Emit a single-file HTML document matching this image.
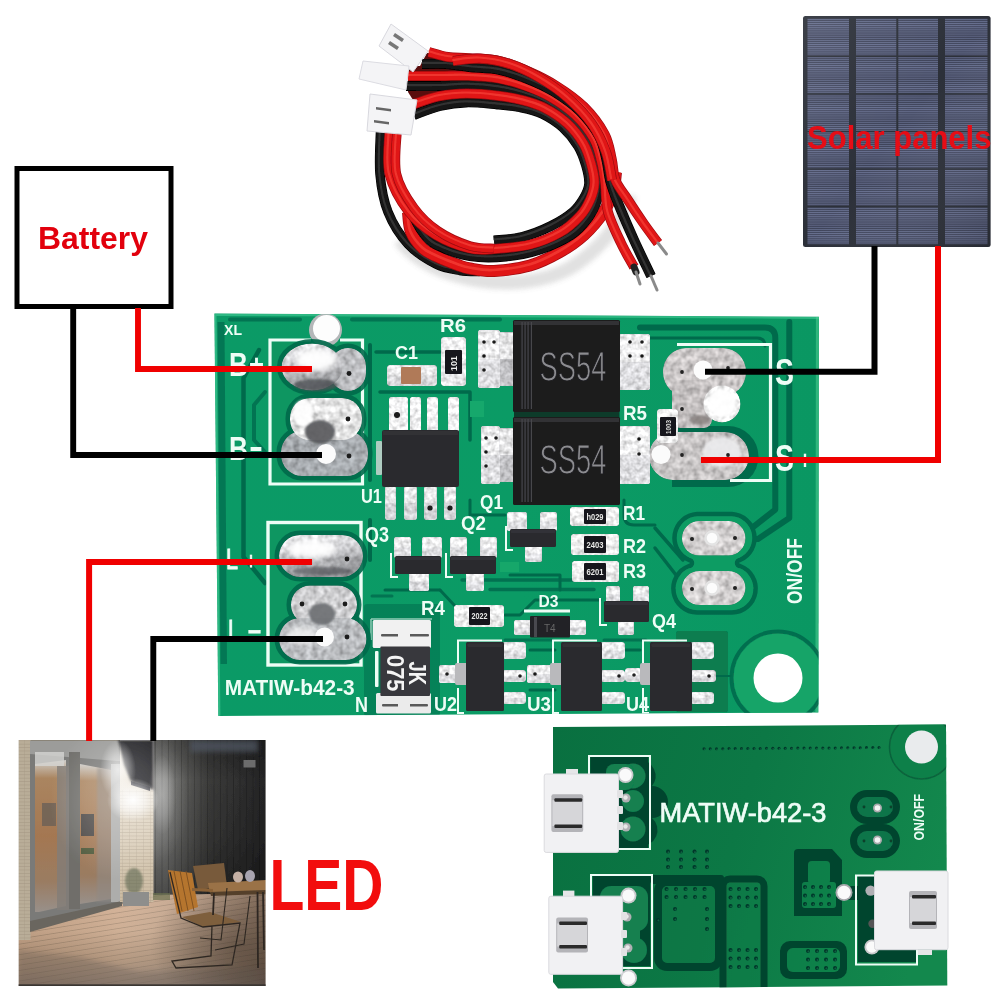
<!DOCTYPE html>
<html><head><meta charset="utf-8"><title>Solar controller wiring</title>
<style>html,body{margin:0;padding:0;background:#fff;overflow:hidden}svg{display:block;font-family:"Liberation Sans",sans-serif;}</style></head><body>
<svg width="1000" height="1000" viewBox="0 0 1000 1000">
<defs>
<filter id="b1" x="-5%" y="-5%" width="110%" height="110%"><feGaussianBlur stdDeviation="0.55"/></filter>
<filter id="b2" x="-30%" y="-30%" width="160%" height="160%"><feGaussianBlur stdDeviation="1.3"/></filter>
<filter id="b3" x="-40%" y="-40%" width="180%" height="180%"><feGaussianBlur stdDeviation="2.6"/></filter>
<filter id="b5" x="-50%" y="-50%" width="200%" height="200%"><feGaussianBlur stdDeviation="5"/></filter>

<filter id="b0" x="-5%" y="-5%" width="110%" height="110%"><feGaussianBlur stdDeviation="0.35"/></filter>
<pattern id="cellp" width="4" height="2.1" patternUnits="userSpaceOnUse"><rect width="4" height="2.1" fill="#3e4359"/><rect y="0" width="4" height="0.95" fill="#687090"/></pattern>
<linearGradient id="solg" x1="0" y1="0" x2="1" y2="1"><stop offset="0" stop-color="#fff" stop-opacity="0.08"/><stop offset="0.5" stop-color="#fff" stop-opacity="0"/><stop offset="1" stop-color="#000" stop-opacity="0.12"/></linearGradient>
<linearGradient id="pg1" x1="0" y1="0" x2="1" y2="0"><stop offset="0" stop-color="#0b9a66"/><stop offset="0.5" stop-color="#0b9b65"/><stop offset="1" stop-color="#0a9762"/></linearGradient>
<linearGradient id="solg1" x1="0" y1="0" x2="0.3" y2="1"><stop offset="0" stop-color="#ececee"/><stop offset="0.45" stop-color="#c9c9cc"/><stop offset="1" stop-color="#8f9093"/></linearGradient>
<radialGradient id="blob" cx="0.4" cy="0.35" r="0.7"><stop offset="0" stop-color="#ffffff"/><stop offset="0.6" stop-color="#e6e6e8"/><stop offset="1" stop-color="#a8a8ac"/></radialGradient>
<clipPath id="pc1"><polygon points="214.4,313.5 819,316.8 818.4,712.5 218.3,716"/></clipPath>

<filter id="metal" x="-2%" y="-2%" width="104%" height="104%">
<feTurbulence type="fractalNoise" baseFrequency="0.16" numOctaves="2" seed="9" result="n"/>
<feColorMatrix in="n" type="matrix" values="1 0 0 0 0  1 0 0 0 0  1 0 0 0 0  0 0 0 0 1" result="g"/>
<feComposite in="SourceGraphic" in2="g" operator="arithmetic" k1="1.3" k2="0.42" k3="0" k4="0" result="m"/>
<feComposite in="m" in2="SourceGraphic" operator="in" result="mm"/>
<feGaussianBlur in="mm" stdDeviation="0.5"/>
</filter>
<filter id="metal2" x="-1%" y="-1%" width="102%" height="102%">
<feTurbulence type="fractalNoise" baseFrequency="0.22" numOctaves="2" seed="5" result="n"/>
<feColorMatrix in="n" type="matrix" values="1 0 0 0 0  1 0 0 0 0  1 0 0 0 0  0 0 0 0 1" result="g"/>
<feComposite in="SourceGraphic" in2="g" operator="arithmetic" k1="1.1" k2="0.5" k3="0" k4="0" result="m"/>
<feComposite in="m" in2="SourceGraphic" operator="in" result="mm"/>
<feGaussianBlur in="mm" stdDeviation="0.55"/>
</filter>
<linearGradient id="pg2" gradientUnits="userSpaceOnUse" x1="553" y1="727" x2="947" y2="845"><stop offset="0" stop-color="#097040"/><stop offset="0.5" stop-color="#0c7845"/><stop offset="1" stop-color="#13884d"/></linearGradient>
<clipPath id="pc2"><polygon points="553,727 946,724.5 947.3,985.5 558,988.5 553,982"/></clipPath>
<clipPath id="phc"><rect x="18.7" y="740" width="246.8" height="246"/></clipPath>
<linearGradient id="fence" x1="0" y1="0" x2="1" y2="0"><stop offset="0" stop-color="#7c7c7a"/><stop offset="0.12" stop-color="#787876"/><stop offset="0.3" stop-color="#585856"/><stop offset="0.5" stop-color="#3b3b3a"/><stop offset="1" stop-color="#242425"/></linearGradient>
<linearGradient id="fenceV" x1="0" y1="0" x2="0" y2="1"><stop offset="0" stop-color="#000" stop-opacity="0.3"/><stop offset="0.25" stop-color="#000" stop-opacity="0"/><stop offset="0.6" stop-color="#000" stop-opacity="0.12"/><stop offset="1" stop-color="#000" stop-opacity="0.4"/></linearGradient>
<linearGradient id="deck" x1="0" y1="0" x2="0" y2="1"><stop offset="0" stop-color="#d2ae92"/><stop offset="0.4" stop-color="#caa88c"/><stop offset="0.7" stop-color="#ae9076"/><stop offset="1" stop-color="#8a7668"/></linearGradient>
<linearGradient id="deckH" x1="0" y1="0" x2="1" y2="0"><stop offset="0" stop-color="#000" stop-opacity="0.05"/><stop offset="0.4" stop-color="#fff" stop-opacity="0.08"/><stop offset="1" stop-color="#000" stop-opacity="0.36"/></linearGradient>
<linearGradient id="brickL" x1="0" y1="0" x2="0" y2="1"><stop offset="0" stop-color="#f4f0e8"/><stop offset="0.3" stop-color="#e6dccb"/><stop offset="1" stop-color="#cbbba2"/></linearGradient>
<linearGradient id="pane" x1="0" y1="0" x2="0" y2="1"><stop offset="0" stop-color="#cfcdc8"/><stop offset="0.12" stop-color="#aa8560"/><stop offset="0.5" stop-color="#a47751"/><stop offset="0.8" stop-color="#9a7c62"/><stop offset="1" stop-color="#98908a"/></linearGradient>
<radialGradient id="shade" cx="0.5" cy="0.5" r="0.5"><stop offset="0" stop-color="#3a2e26" stop-opacity="1"/><stop offset="0.5" stop-color="#3a2e26" stop-opacity="0.6"/><stop offset="1" stop-color="#3a2e26" stop-opacity="0"/></radialGradient>
<radialGradient id="glow" cx="0.5" cy="0.5" r="0.5"><stop offset="0" stop-color="#fff" stop-opacity="1"/><stop offset="0.5" stop-color="#fff" stop-opacity="0.6"/><stop offset="1" stop-color="#fff" stop-opacity="0"/></radialGradient>
<pattern id="brk" width="7" height="3.4" patternUnits="userSpaceOnUse"><rect width="7" height="3.4" fill="none"/><rect y="2.9" width="7" height="0.5" fill="#8a7a68" opacity="0.45"/><rect x="3" y="0" width="0.5" height="3" fill="#8a7a68" opacity="0.3"/></pattern>
<pattern id="plk" width="40" height="5.2" patternUnits="userSpaceOnUse" patternTransform="rotate(-9)"><rect y="4.4" width="40" height="0.8" fill="#6a5844" opacity="0.35"/></pattern>
<pattern id="fpl" width="6.5" height="20" patternUnits="userSpaceOnUse"><rect x="5.8" width="0.7" height="20" fill="#000" opacity="0.25"/></pattern>
</defs>
<rect width="1000" height="1000" fill="#fff"/>
<g filter="url(#b1)"><g filter="url(#b3)" opacity="0.22">
<path d="M400 240 C 430 282 520 296 570 268 C 600 250 624 220 630 195" fill="none" stroke="#777" stroke-width="14"/>
</g>
<polygon points="427,53 450,55 472,54 470,106 440,106 416,117 413,100 408,92 409,66 420,66" fill="#5a0b0d" />
<path d="M380.5 131 C380.4 138.2 378.8 160.5 380 174 C381.2 187.5 383.3 200.3 388 212 C392.7 223.7 400 235.3 408 244 C416 252.7 427.3 259.6 436 264 C444.7 268.4 452.7 269.2 460 270.5 C467.3 271.8 476.7 271.3 480 271.5" fill="none" stroke="#000" stroke-width="9.5" stroke-linecap="butt"/><path d="M380.5 131 C380.4 138.2 378.8 160.5 380 174 C381.2 187.5 383.3 200.3 388 212 C392.7 223.7 400 235.3 408 244 C416 252.7 427.3 259.6 436 264 C444.7 268.4 452.7 269.2 460 270.5 C467.3 271.8 476.7 271.3 480 271.5" fill="none" stroke="#161616" stroke-width="8.1" stroke-linecap="butt"/><path d="M380.5 131 C380.4 138.2 378.8 160.5 380 174 C381.2 187.5 383.3 200.3 388 212 C392.7 223.7 400 235.3 408 244 C416 252.7 427.3 259.6 436 264 C444.7 268.4 452.7 269.2 460 270.5 C467.3 271.8 476.7 271.3 480 271.5" fill="none" stroke="#505050" stroke-width="2.09" stroke-opacity="0.5" transform="translate(-0.8,-1)"/>
<path d="M408 212 C408.5 215.3 408.5 225.9 411 232 C413.5 238.1 418.8 244.5 423 248.5 C427.2 252.5 430.2 253.2 436 256 C441.8 258.8 452.3 262.9 458 265 C463.7 267.1 464 267.5 470 268.5 C476 269.5 484 271.5 494 271 C504 270.5 519 268.7 530 265.5 C541 262.3 551 257.1 560 252 C569 246.9 576.8 241.5 584 235 C591.2 228.5 598.2 220.2 603 213 C607.8 205.8 610.8 198.8 613 192 C615.2 185.2 615.5 175.3 616 172" fill="none" stroke="#9c0a0e" stroke-width="12" stroke-linecap="butt"/><path d="M408 212 C408.5 215.3 408.5 225.9 411 232 C413.5 238.1 418.8 244.5 423 248.5 C427.2 252.5 430.2 253.2 436 256 C441.8 258.8 452.3 262.9 458 265 C463.7 267.1 464 267.5 470 268.5 C476 269.5 484 271.5 494 271 C504 270.5 519 268.7 530 265.5 C541 262.3 551 257.1 560 252 C569 246.9 576.8 241.5 584 235 C591.2 228.5 598.2 220.2 603 213 C607.8 205.8 610.8 198.8 613 192 C615.2 185.2 615.5 175.3 616 172" fill="none" stroke="#e01519" stroke-width="10.6" stroke-linecap="butt"/><path d="M408 212 C408.5 215.3 408.5 225.9 411 232 C413.5 238.1 418.8 244.5 423 248.5 C427.2 252.5 430.2 253.2 436 256 C441.8 258.8 452.3 262.9 458 265 C463.7 267.1 464 267.5 470 268.5 C476 269.5 484 271.5 494 271 C504 270.5 519 268.7 530 265.5 C541 262.3 551 257.1 560 252 C569 246.9 576.8 241.5 584 235 C591.2 228.5 598.2 220.2 603 213 C607.8 205.8 610.8 198.8 613 192 C615.2 185.2 615.5 175.3 616 172" fill="none" stroke="#ff5846" stroke-width="2.64" stroke-opacity="0.5" transform="translate(-0.8,-1)"/>
<path d="M414 115 C418.3 113.5 431.3 108.1 440 106 C448.7 103.9 456.7 102.6 466.3 102.4 C475.8 102.1 488 103.6 497.2 104.4 C506.4 105.3 514.1 106 521.6 107.6 C529.1 109.1 535.3 110.4 542.2 113.7 C549 117 556.8 121.9 562.8 127.3 C568.7 132.7 574.3 139.7 578.2 146 C582.1 152.4 584.3 159.2 586.1 165.4 C587.9 171.7 589.5 178.3 589.2 183.7 C588.8 189.1 586.7 193.3 584 198 C581.3 202.7 578.5 207.3 573 212 C567.5 216.7 559.5 221.8 551 226 C542.5 230.2 531.5 234.6 522 237 C512.5 239.4 498.7 239.9 494 240.5" fill="none" stroke="#000" stroke-width="10" stroke-linecap="butt"/><path d="M414 115 C418.3 113.5 431.3 108.1 440 106 C448.7 103.9 456.7 102.6 466.3 102.4 C475.8 102.1 488 103.6 497.2 104.4 C506.4 105.3 514.1 106 521.6 107.6 C529.1 109.1 535.3 110.4 542.2 113.7 C549 117 556.8 121.9 562.8 127.3 C568.7 132.7 574.3 139.7 578.2 146 C582.1 152.4 584.3 159.2 586.1 165.4 C587.9 171.7 589.5 178.3 589.2 183.7 C588.8 189.1 586.7 193.3 584 198 C581.3 202.7 578.5 207.3 573 212 C567.5 216.7 559.5 221.8 551 226 C542.5 230.2 531.5 234.6 522 237 C512.5 239.4 498.7 239.9 494 240.5" fill="none" stroke="#161616" stroke-width="8.6" stroke-linecap="butt"/><path d="M414 115 C418.3 113.5 431.3 108.1 440 106 C448.7 103.9 456.7 102.6 466.3 102.4 C475.8 102.1 488 103.6 497.2 104.4 C506.4 105.3 514.1 106 521.6 107.6 C529.1 109.1 535.3 110.4 542.2 113.7 C549 117 556.8 121.9 562.8 127.3 C568.7 132.7 574.3 139.7 578.2 146 C582.1 152.4 584.3 159.2 586.1 165.4 C587.9 171.7 589.5 178.3 589.2 183.7 C588.8 189.1 586.7 193.3 584 198 C581.3 202.7 578.5 207.3 573 212 C567.5 216.7 559.5 221.8 551 226 C542.5 230.2 531.5 234.6 522 237 C512.5 239.4 498.7 239.9 494 240.5" fill="none" stroke="#505050" stroke-width="2.2" stroke-opacity="0.5" transform="translate(-0.8,-1)"/>
<path d="M406 86 C411.7 86 429.7 86.2 440 86 C450.3 85.8 457.9 84.5 467.6 84.7 C477.3 84.9 488.7 85.7 498.2 87.1 C507.7 88.5 516.4 90.7 524.7 93.3 C533 95.9 540.2 98.4 548 102.7 C555.7 107 564.5 112.7 571.2 119.2 C578 125.6 584.5 134 588.7 141.3 C592.9 148.5 594.5 155.9 596.3 162.7 C598.1 169.6 599.6 176.1 599.7 182.4 C599.8 188.6 599 194.1 597 200 C595 205.9 592.3 212.2 588 218 C583.7 223.8 579 229.8 571 235 C563 240.2 550.8 245.9 540 249.5 C529.2 253.1 517.7 255.4 506 256.5 C494.3 257.6 481.7 258 470 256 C458.3 254 444 248.7 436 244.5 C428 240.3 425.8 235.9 422 231 C418.2 226.1 414.5 217.7 413 215" fill="none" stroke="#000" stroke-width="10" stroke-linecap="butt"/><path d="M406 86 C411.7 86 429.7 86.2 440 86 C450.3 85.8 457.9 84.5 467.6 84.7 C477.3 84.9 488.7 85.7 498.2 87.1 C507.7 88.5 516.4 90.7 524.7 93.3 C533 95.9 540.2 98.4 548 102.7 C555.7 107 564.5 112.7 571.2 119.2 C578 125.6 584.5 134 588.7 141.3 C592.9 148.5 594.5 155.9 596.3 162.7 C598.1 169.6 599.6 176.1 599.7 182.4 C599.8 188.6 599 194.1 597 200 C595 205.9 592.3 212.2 588 218 C583.7 223.8 579 229.8 571 235 C563 240.2 550.8 245.9 540 249.5 C529.2 253.1 517.7 255.4 506 256.5 C494.3 257.6 481.7 258 470 256 C458.3 254 444 248.7 436 244.5 C428 240.3 425.8 235.9 422 231 C418.2 226.1 414.5 217.7 413 215" fill="none" stroke="#161616" stroke-width="8.6" stroke-linecap="butt"/><path d="M406 86 C411.7 86 429.7 86.2 440 86 C450.3 85.8 457.9 84.5 467.6 84.7 C477.3 84.9 488.7 85.7 498.2 87.1 C507.7 88.5 516.4 90.7 524.7 93.3 C533 95.9 540.2 98.4 548 102.7 C555.7 107 564.5 112.7 571.2 119.2 C578 125.6 584.5 134 588.7 141.3 C592.9 148.5 594.5 155.9 596.3 162.7 C598.1 169.6 599.6 176.1 599.7 182.4 C599.8 188.6 599 194.1 597 200 C595 205.9 592.3 212.2 588 218 C583.7 223.8 579 229.8 571 235 C563 240.2 550.8 245.9 540 249.5 C529.2 253.1 517.7 255.4 506 256.5 C494.3 257.6 481.7 258 470 256 C458.3 254 444 248.7 436 244.5 C428 240.3 425.8 235.9 422 231 C418.2 226.1 414.5 217.7 413 215" fill="none" stroke="#505050" stroke-width="2.2" stroke-opacity="0.5" transform="translate(-0.8,-1)"/>
<path d="M414 104 C418.3 102.7 431.2 97.7 440 96 C448.8 94.3 457.3 93.6 467 93.5 C476.6 93.5 488.4 94.6 497.7 95.8 C507.1 96.9 515.3 98.3 523.2 100.4 C531.1 102.5 537.8 104.4 545.1 108.2 C552.4 112 560.6 117.3 567 123.2 C573.4 129.1 579.4 136.8 583.4 143.6 C587.5 150.4 589.4 157.5 591.2 164.1 C593 170.6 594.6 177.1 594.4 183 C594.2 189 592.4 194.5 590 200 C587.6 205.5 585 210.6 580 216 C575 221.4 568.3 227.8 560 232.5 C551.7 237.2 541 241.8 530 244.5 C519 247.2 504 248.3 494 249 C484 249.7 479.7 250.8 470 248.5 C460.3 246.2 446.2 241.1 436 235 C425.8 228.9 416.8 222.2 409 212 C401.2 201.8 392.8 187.5 389.5 174 C386.2 160.5 389.5 138.2 389.5 131" fill="none" stroke="#9c0a0e" stroke-width="10" stroke-linecap="butt"/><path d="M414 104 C418.3 102.7 431.2 97.7 440 96 C448.8 94.3 457.3 93.6 467 93.5 C476.6 93.5 488.4 94.6 497.7 95.8 C507.1 96.9 515.3 98.3 523.2 100.4 C531.1 102.5 537.8 104.4 545.1 108.2 C552.4 112 560.6 117.3 567 123.2 C573.4 129.1 579.4 136.8 583.4 143.6 C587.5 150.4 589.4 157.5 591.2 164.1 C593 170.6 594.6 177.1 594.4 183 C594.2 189 592.4 194.5 590 200 C587.6 205.5 585 210.6 580 216 C575 221.4 568.3 227.8 560 232.5 C551.7 237.2 541 241.8 530 244.5 C519 247.2 504 248.3 494 249 C484 249.7 479.7 250.8 470 248.5 C460.3 246.2 446.2 241.1 436 235 C425.8 228.9 416.8 222.2 409 212 C401.2 201.8 392.8 187.5 389.5 174 C386.2 160.5 389.5 138.2 389.5 131" fill="none" stroke="#e01519" stroke-width="8.6" stroke-linecap="butt"/><path d="M414 104 C418.3 102.7 431.2 97.7 440 96 C448.8 94.3 457.3 93.6 467 93.5 C476.6 93.5 488.4 94.6 497.7 95.8 C507.1 96.9 515.3 98.3 523.2 100.4 C531.1 102.5 537.8 104.4 545.1 108.2 C552.4 112 560.6 117.3 567 123.2 C573.4 129.1 579.4 136.8 583.4 143.6 C587.5 150.4 589.4 157.5 591.2 164.1 C593 170.6 594.6 177.1 594.4 183 C594.2 189 592.4 194.5 590 200 C587.6 205.5 585 210.6 580 216 C575 221.4 568.3 227.8 560 232.5 C551.7 237.2 541 241.8 530 244.5 C519 247.2 504 248.3 494 249 C484 249.7 479.7 250.8 470 248.5 C460.3 246.2 446.2 241.1 436 235 C425.8 228.9 416.8 222.2 409 212 C401.2 201.8 392.8 187.5 389.5 174 C386.2 160.5 389.5 138.2 389.5 131" fill="none" stroke="#ff5846" stroke-width="2.2" stroke-opacity="0.5" transform="translate(-0.8,-1)"/>
<path d="M408 76 C413.3 76 429.9 76 440 76 C450.1 76 458.5 75.4 468.3 75.8 C478.1 76.2 489.1 76.7 498.7 78.4 C508.4 80.1 517.5 83 526.2 86.1 C534.9 89.3 542.6 92.3 550.9 97.2 C559.1 102 568.3 108.1 575.5 115.1 C582.7 122 589.7 131.2 594 138.9 C598.3 146.6 599.6 154.2 601.4 161.4 C603.2 168.5 603.9 173.2 605 181.7 C606.1 190.1 605.3 201.8 608 212 C610.7 222.2 616.7 233.8 621 243 C625.3 252.2 631.8 263 634 267" fill="none" stroke="#9c0a0e" stroke-width="10" stroke-linecap="butt"/><path d="M408 76 C413.3 76 429.9 76 440 76 C450.1 76 458.5 75.4 468.3 75.8 C478.1 76.2 489.1 76.7 498.7 78.4 C508.4 80.1 517.5 83 526.2 86.1 C534.9 89.3 542.6 92.3 550.9 97.2 C559.1 102 568.3 108.1 575.5 115.1 C582.7 122 589.7 131.2 594 138.9 C598.3 146.6 599.6 154.2 601.4 161.4 C603.2 168.5 603.9 173.2 605 181.7 C606.1 190.1 605.3 201.8 608 212 C610.7 222.2 616.7 233.8 621 243 C625.3 252.2 631.8 263 634 267" fill="none" stroke="#e01519" stroke-width="8.6" stroke-linecap="butt"/><path d="M408 76 C413.3 76 429.9 76 440 76 C450.1 76 458.5 75.4 468.3 75.8 C478.1 76.2 489.1 76.7 498.7 78.4 C508.4 80.1 517.5 83 526.2 86.1 C534.9 89.3 542.6 92.3 550.9 97.2 C559.1 102 568.3 108.1 575.5 115.1 C582.7 122 589.7 131.2 594 138.9 C598.3 146.6 599.6 154.2 601.4 161.4 C603.2 168.5 603.9 173.2 605 181.7 C606.1 190.1 605.3 201.8 608 212 C610.7 222.2 616.7 233.8 621 243 C625.3 252.2 631.8 263 634 267" fill="none" stroke="#ff5846" stroke-width="2.2" stroke-opacity="0.5" transform="translate(-0.8,-1)"/>
<path d="M422 64 C426 64 438.2 63.5 446 64 C453.8 64.5 460.1 66 469 67 C477.9 68 489.5 67.8 499.2 69.8 C509 71.8 518.7 75.4 527.8 79 C536.8 82.6 545.1 86.3 553.8 91.6 C562.4 97 572.2 103.5 579.8 111 C587.3 118.5 594.8 128.3 599.2 136.5 C603.7 144.7 604.7 152.6 606.5 160 C608.3 167.4 608.3 173.8 610.2 181 C612.2 188.2 614 193.2 618 203 C622 212.8 628.5 227.8 634 240 C639.5 252.2 648.2 270 651 276" fill="none" stroke="#000" stroke-width="10" stroke-linecap="butt"/><path d="M422 64 C426 64 438.2 63.5 446 64 C453.8 64.5 460.1 66 469 67 C477.9 68 489.5 67.8 499.2 69.8 C509 71.8 518.7 75.4 527.8 79 C536.8 82.6 545.1 86.3 553.8 91.6 C562.4 97 572.2 103.5 579.8 111 C587.3 118.5 594.8 128.3 599.2 136.5 C603.7 144.7 604.7 152.6 606.5 160 C608.3 167.4 608.3 173.8 610.2 181 C612.2 188.2 614 193.2 618 203 C622 212.8 628.5 227.8 634 240 C639.5 252.2 648.2 270 651 276" fill="none" stroke="#161616" stroke-width="8.6" stroke-linecap="butt"/><path d="M422 64 C426 64 438.2 63.5 446 64 C453.8 64.5 460.1 66 469 67 C477.9 68 489.5 67.8 499.2 69.8 C509 71.8 518.7 75.4 527.8 79 C536.8 82.6 545.1 86.3 553.8 91.6 C562.4 97 572.2 103.5 579.8 111 C587.3 118.5 594.8 128.3 599.2 136.5 C603.7 144.7 604.7 152.6 606.5 160 C608.3 167.4 608.3 173.8 610.2 181 C612.2 188.2 614 193.2 618 203 C622 212.8 628.5 227.8 634 240 C639.5 252.2 648.2 270 651 276" fill="none" stroke="#505050" stroke-width="2.2" stroke-opacity="0.5" transform="translate(-0.8,-1)"/>
<path d="M429 52 C432.2 52.8 441.2 56 448 57 C454.8 58 461.1 57.5 469.7 58.2 C478.3 58.8 489.8 58.8 499.8 61.1 C509.7 63.4 519.8 67.7 529.3 71.9 C538.8 76 547.5 80.3 556.6 86.1 C565.8 91.9 576 98.9 584 106.9 C592 114.9 599.9 125.5 604.5 134.1 C609.1 142.7 609.8 150.9 611.6 158.6 C613.4 166.3 612.8 173.4 615.5 180.3 C618.3 187.2 623.3 192.7 628 200 C632.7 207.3 639 216.8 644 224 C649 231.2 655.7 239.8 658 243" fill="none" stroke="#9c0a0e" stroke-width="10" stroke-linecap="butt"/><path d="M429 52 C432.2 52.8 441.2 56 448 57 C454.8 58 461.1 57.5 469.7 58.2 C478.3 58.8 489.8 58.8 499.8 61.1 C509.7 63.4 519.8 67.7 529.3 71.9 C538.8 76 547.5 80.3 556.6 86.1 C565.8 91.9 576 98.9 584 106.9 C592 114.9 599.9 125.5 604.5 134.1 C609.1 142.7 609.8 150.9 611.6 158.6 C613.4 166.3 612.8 173.4 615.5 180.3 C618.3 187.2 623.3 192.7 628 200 C632.7 207.3 639 216.8 644 224 C649 231.2 655.7 239.8 658 243" fill="none" stroke="#e01519" stroke-width="8.6" stroke-linecap="butt"/><path d="M429 52 C432.2 52.8 441.2 56 448 57 C454.8 58 461.1 57.5 469.7 58.2 C478.3 58.8 489.8 58.8 499.8 61.1 C509.7 63.4 519.8 67.7 529.3 71.9 C538.8 76 547.5 80.3 556.6 86.1 C565.8 91.9 576 98.9 584 106.9 C592 114.9 599.9 125.5 604.5 134.1 C609.1 142.7 609.8 150.9 611.6 158.6 C613.4 166.3 612.8 173.4 615.5 180.3 C618.3 187.2 623.3 192.7 628 200 C632.7 207.3 639 216.8 644 224 C649 231.2 655.7 239.8 658 243" fill="none" stroke="#ff5846" stroke-width="2.2" stroke-opacity="0.5" transform="translate(-0.8,-1)"/>
<path d="M397 131 C396.9 138.2 393.7 161.2 396.5 174 C399.3 186.8 407.1 198.5 414 208 C420.9 217.5 428.7 224.7 438 231 C447.3 237.3 460.7 243.1 470 246 C479.3 248.9 490 248.1 494 248.5" fill="none" stroke="#9c0a0e" stroke-width="9.5" stroke-linecap="butt"/><path d="M397 131 C396.9 138.2 393.7 161.2 396.5 174 C399.3 186.8 407.1 198.5 414 208 C420.9 217.5 428.7 224.7 438 231 C447.3 237.3 460.7 243.1 470 246 C479.3 248.9 490 248.1 494 248.5" fill="none" stroke="#e01519" stroke-width="8.1" stroke-linecap="butt"/><path d="M397 131 C396.9 138.2 393.7 161.2 396.5 174 C399.3 186.8 407.1 198.5 414 208 C420.9 217.5 428.7 224.7 438 231 C447.3 237.3 460.7 243.1 470 246 C479.3 248.9 490 248.1 494 248.5" fill="none" stroke="#ff5846" stroke-width="2.09" stroke-opacity="0.5" transform="translate(-0.8,-1)"/>
<path d="M453 61 C457.5 60.6 470.5 58 480 58.5 C489.5 59 500 60.8 510 64 C520 67.2 530.3 72.3 540 78 C549.7 83.7 559.3 90.3 568 98 C576.7 105.7 585.7 115 592 124 C598.3 133 602.7 142.7 606 152 C609.3 161.3 611 175.3 612 180" fill="none" stroke="#9c0a0e" stroke-width="10" stroke-linecap="butt"/><path d="M453 61 C457.5 60.6 470.5 58 480 58.5 C489.5 59 500 60.8 510 64 C520 67.2 530.3 72.3 540 78 C549.7 83.7 559.3 90.3 568 98 C576.7 105.7 585.7 115 592 124 C598.3 133 602.7 142.7 606 152 C609.3 161.3 611 175.3 612 180" fill="none" stroke="#e01519" stroke-width="8.6" stroke-linecap="butt"/><path d="M453 61 C457.5 60.6 470.5 58 480 58.5 C489.5 59 500 60.8 510 64 C520 67.2 530.3 72.3 540 78 C549.7 83.7 559.3 90.3 568 98 C576.7 105.7 585.7 115 592 124 C598.3 133 602.7 142.7 606 152 C609.3 161.3 611 175.3 612 180" fill="none" stroke="#ff5846" stroke-width="2.2" stroke-opacity="0.5" transform="translate(-0.8,-1)"/>
<path d="M658 243 L666.5 254" stroke="#8a8a8a" stroke-width="3" stroke-linecap="round"/>
<path d="M651 276 L657 290" stroke="#8a8a8a" stroke-width="3" stroke-linecap="round"/>
<path d="M634 267 L636 272" stroke="#222" stroke-width="7" stroke-linecap="round"/>
<path d="M636 272 L640 284" stroke="#8a8a8a" stroke-width="3" stroke-linecap="round"/>
<polygon points="391,24 428,51 413,72 379,46" fill="#f4f4f6" stroke="#d8d8de" stroke-width="1"/>
<polygon points="395,33 404,39 402,42 393,36" fill="#777" />
<polygon points="390,41 399,47 397,50 388,44" fill="#777" />
<polygon points="363,61 409,66 406,90 359,79" fill="#f4f4f6" stroke="#dcdce2" stroke-width="1"/>
<polygon points="370,94 417,100 411,135 367,131" fill="#f4f4f6" stroke="#d8d8de" stroke-width="1"/>
<polygon points="376,107 391,109 391,111.5 376,109.5" fill="#666" />
<polygon points="374,120 389,122 389,124.5 374,122.5" fill="#666" /></g>
<rect x="803" y="16" width="187.6" height="231" rx="2.5" fill="#2c3039" />
<rect x="807.5" y="18.6" width="41.5" height="36.8" rx="0" fill="url(#cellp)" />
<rect x="807.5" y="57" width="41.5" height="36.2" rx="0" fill="url(#cellp)" />
<rect x="807.5" y="94.8" width="41.5" height="35.9" rx="0" fill="url(#cellp)" />
<rect x="807.5" y="132.3" width="41.5" height="35.9" rx="0" fill="url(#cellp)" />
<rect x="807.5" y="169.8" width="41.5" height="35.9" rx="0" fill="url(#cellp)" />
<rect x="807.5" y="207.3" width="41.5" height="36.9" rx="0" fill="url(#cellp)" />
<rect x="856" y="18.6" width="40.3" height="36.8" rx="0" fill="url(#cellp)" />
<rect x="856" y="57" width="40.3" height="36.2" rx="0" fill="url(#cellp)" />
<rect x="856" y="94.8" width="40.3" height="35.9" rx="0" fill="url(#cellp)" />
<rect x="856" y="132.3" width="40.3" height="35.9" rx="0" fill="url(#cellp)" />
<rect x="856" y="169.8" width="40.3" height="35.9" rx="0" fill="url(#cellp)" />
<rect x="856" y="207.3" width="40.3" height="36.9" rx="0" fill="url(#cellp)" />
<rect x="898.3" y="18.6" width="39.7" height="36.8" rx="0" fill="url(#cellp)" />
<rect x="898.3" y="57" width="39.7" height="36.2" rx="0" fill="url(#cellp)" />
<rect x="898.3" y="94.8" width="39.7" height="35.9" rx="0" fill="url(#cellp)" />
<rect x="898.3" y="132.3" width="39.7" height="35.9" rx="0" fill="url(#cellp)" />
<rect x="898.3" y="169.8" width="39.7" height="35.9" rx="0" fill="url(#cellp)" />
<rect x="898.3" y="207.3" width="39.7" height="36.9" rx="0" fill="url(#cellp)" />
<rect x="945" y="18.6" width="42.5" height="36.8" rx="0" fill="url(#cellp)" />
<rect x="945" y="57" width="42.5" height="36.2" rx="0" fill="url(#cellp)" />
<rect x="945" y="94.8" width="42.5" height="35.9" rx="0" fill="url(#cellp)" />
<rect x="945" y="132.3" width="42.5" height="35.9" rx="0" fill="url(#cellp)" />
<rect x="945" y="169.8" width="42.5" height="35.9" rx="0" fill="url(#cellp)" />
<rect x="945" y="207.3" width="42.5" height="36.9" rx="0" fill="url(#cellp)" />
<rect x="803" y="16" width="187.6" height="231" rx="2.5" fill="url(#solg)" />
<g filter="url(#b1)"><text x="807" y="149" font-size="33" fill="#e60a14" font-weight="bold" textLength="184.5" lengthAdjust="spacingAndGlyphs" >Solar panels</text></g>
<polygon points="214.4,313.5 819,316.8 818.4,712.5 218.3,716" fill="url(#pg1)" />
<g clip-path="url(#pc1)">
<g filter="url(#b1)"><path d="M219.3 715 L215.4 314.6 L818 317.8" fill="none" stroke="#3cc48e" stroke-width="2.2" stroke-linejoin="round" stroke-linecap="round" opacity="0.7"/><path d="M817.4 318 L816.9 712" fill="none" stroke="#4fd094" stroke-width="3" stroke-linejoin="round" stroke-linecap="round" opacity="0.55"/><polygon points="217.5,322 224.5,322 227,664 220.5,664" fill="#056a4c" opacity="0.7"/><path d="M259 350 L243.5 378 V557 L265 583" fill="none" stroke="#056a4c" stroke-width="4.5" stroke-linejoin="round" stroke-linecap="round" /><path d="M230 319.5 H300 M352 319.5 H500" fill="none" stroke="#056a4c" stroke-width="4" stroke-linejoin="round" stroke-linecap="round" opacity="0.8"/><path d="M265 392 L254 405 V440 L265 452" fill="none" stroke="#056a4c" stroke-width="4" stroke-linejoin="round" stroke-linecap="round" opacity="0.8"/><rect x="272" y="342" width="89" height="140" rx="0" fill="#0a9560" opacity="0.8"/><rect x="270" y="525" width="89" height="138" rx="0" fill="#0a9560" opacity="0.8"/><path d="M640 327.5 H765 Q775.3 327.5 775.3 338 V509.6 L754 526.4 H746" fill="none" stroke="#056a4c" stroke-width="6" stroke-linejoin="round" stroke-linecap="round" /><path d="M640 338 H757 Q765 338 765 346" fill="none" stroke="#056a4c" stroke-width="3" stroke-linejoin="round" stroke-linecap="round" /><path d="M789.3 322 V518 L758 539 H748" fill="none" stroke="#056a4c" stroke-width="6" stroke-linejoin="round" stroke-linecap="round" /><path d="M697 514 H732 A24 24 0 0 1 740 560 A3 3 0 0 0 740 566 A24 24 0 0 1 732 612.5 H697 A24 24 0 0 1 689 566 A3 3 0 0 0 689 560 A24 24 0 0 1 697 514 Z" fill="#0c9c64" stroke="#056a4c" stroke-width="4.5"/><path d="M655 528 L683 560 M655 548 L676 575" fill="none" stroke="#056a4c" stroke-width="3.5" stroke-linejoin="round" stroke-linecap="round" /><rect x="676" y="631" width="52" height="81" rx="2" fill="#087d50" /><path d="M712 676 H734" fill="none" stroke="#056a4c" stroke-width="2" stroke-linejoin="round" stroke-linecap="round" /><circle cx="778" cy="678" r="46.5" fill="#12a468" stroke="#056a4c" stroke-width="4" stroke-opacity="0.9"/><path d="M370 345 V480 M370 520 V560" fill="none" stroke="#056a4c" stroke-width="4" stroke-linejoin="round" stroke-linecap="round" /><path d="M376 352 H440 M380 392 H470 V440" fill="none" stroke="#056a4c" stroke-width="3.5" stroke-linejoin="round" stroke-linecap="round" /><rect x="470" y="401" width="14" height="16" rx="0" fill="#14a86c" /><path d="M440 590 L455 606 M505 615 H520 L535 600 H600" fill="none" stroke="#056a4c" stroke-width="3" stroke-linejoin="round" stroke-linecap="round" /><path d="M385 590 H440 M510 575 H560 V590" fill="none" stroke="#056a4c" stroke-width="3" stroke-linejoin="round" stroke-linecap="round" /><path d="M530 650 H555 M610 650 H640 M530 690 H555" fill="none" stroke="#056a4c" stroke-width="3" stroke-linejoin="round" stroke-linecap="round" /><path d="M470 500 V515 H505" fill="none" stroke="#056a4c" stroke-width="3" stroke-linejoin="round" stroke-linecap="round" /><path d="M462 580 H596 M490 589.5 H594" fill="none" stroke="#056a4c" stroke-width="3.5" stroke-linejoin="round" stroke-linecap="round" opacity="0.85"/><rect x="500" y="562" width="19" height="10" rx="0" fill="#13a76b" /><path d="M372 596 H392 M505 640 H552 M604 640 H646" fill="none" stroke="#056a4c" stroke-width="3" stroke-linejoin="round" stroke-linecap="round" opacity="0.8"/><path d="M624 500 V515 Q624 525 634 525 H655" fill="none" stroke="#056a4c" stroke-width="3" stroke-linejoin="round" stroke-linecap="round" /><path d="M672 426 H728 A30.5 30.5 0 0 1 728 487 H672 Z" fill="#056a4c"/><rect x="364" y="604" width="76" height="112" rx="3" fill="#056a4c" opacity="0.5"/></g>
<g filter="url(#b1)"><path d="M311 340 H270 V484 H362.5 V340 H340" fill="none" stroke="#eefdf6" stroke-width="3.2"/><rect x="268" y="522.5" width="93" height="142.5" fill="none" stroke="#eefdf6" stroke-width="3.4"/><path d="M677 344.5 H770.5 V480.5 H730" fill="none" stroke="#eefdf6" stroke-width="3.2"/><text x="224" y="335" font-size="15" fill="#eefdf6" font-weight="bold" textLength="18" lengthAdjust="spacingAndGlyphs" >XL</text><text x="229" y="376" font-size="34" fill="#eefdf6" font-weight="bold" textLength="19" lengthAdjust="spacingAndGlyphs" >B</text><text x="249" y="374" font-size="28" fill="#eefdf6" font-weight="bold" textLength="15" lengthAdjust="spacingAndGlyphs" >+</text><text x="229" y="460" font-size="34" fill="#eefdf6" font-weight="bold" textLength="19" lengthAdjust="spacingAndGlyphs" >B</text><text x="249" y="458" font-size="34" fill="#eefdf6" font-weight="bold" textLength="14" lengthAdjust="spacingAndGlyphs" >-</text><text x="226" y="569" font-size="30" fill="#eefdf6" font-weight="normal" textLength="12" lengthAdjust="spacingAndGlyphs" stroke="#eefdf6" stroke-width="0.9">L</text><text x="245" y="569" font-size="24" fill="#eefdf6" font-weight="normal" textLength="12" lengthAdjust="spacingAndGlyphs" stroke="#eefdf6" stroke-width="0.9">+</text><text x="228" y="640" font-size="30" fill="#eefdf6" font-weight="normal" textLength="12" lengthAdjust="spacingAndGlyphs" stroke="#eefdf6" stroke-width="0.9">L</text><text x="247" y="641" font-size="34" fill="#eefdf6" font-weight="normal" textLength="15" lengthAdjust="spacingAndGlyphs" stroke="#eefdf6" stroke-width="0.9">-</text><text x="224.7" y="694.5" font-size="21.5" fill="#eefdf6" font-weight="bold" textLength="130" lengthAdjust="spacingAndGlyphs" >MATIW-b42-3</text><text x="355" y="711.5" font-size="22" fill="#eefdf6" font-weight="bold" textLength="13" lengthAdjust="spacingAndGlyphs" >N</text><text x="395" y="359" font-size="19" fill="#eefdf6" font-weight="bold" textLength="23" lengthAdjust="spacingAndGlyphs" >C1</text><text x="440" y="332" font-size="19" fill="#eefdf6" font-weight="bold" textLength="26" lengthAdjust="spacingAndGlyphs" >R6</text><text x="361" y="503" font-size="20" fill="#eefdf6" font-weight="bold" textLength="21" lengthAdjust="spacingAndGlyphs" >U1</text><text x="480" y="509" font-size="20" fill="#eefdf6" font-weight="bold" textLength="23" lengthAdjust="spacingAndGlyphs" >Q1</text><text x="365" y="542" font-size="22" fill="#eefdf6" font-weight="bold" textLength="24" lengthAdjust="spacingAndGlyphs" >Q3</text><text x="461" y="530" font-size="20" fill="#eefdf6" font-weight="bold" textLength="25" lengthAdjust="spacingAndGlyphs" >Q2</text><text x="421" y="615" font-size="21" fill="#eefdf6" font-weight="bold" textLength="24" lengthAdjust="spacingAndGlyphs" >R4</text><text x="434" y="711" font-size="21" fill="#eefdf6" font-weight="bold" textLength="23" lengthAdjust="spacingAndGlyphs" >U2</text><text x="527" y="711" font-size="21" fill="#eefdf6" font-weight="bold" textLength="24" lengthAdjust="spacingAndGlyphs" >U3</text><text x="626" y="711" font-size="21" fill="#eefdf6" font-weight="bold" textLength="23" lengthAdjust="spacingAndGlyphs" >U4</text><text x="538.5" y="607" font-size="17" fill="#eefdf6" font-weight="bold" textLength="20" lengthAdjust="spacingAndGlyphs" >D3</text><text x="652" y="628" font-size="20" fill="#eefdf6" font-weight="bold" textLength="24" lengthAdjust="spacingAndGlyphs" >Q4</text><text x="623" y="420" font-size="21" fill="#eefdf6" font-weight="bold" textLength="24" lengthAdjust="spacingAndGlyphs" >R5</text><text x="623" y="520" font-size="21" fill="#eefdf6" font-weight="bold" textLength="22" lengthAdjust="spacingAndGlyphs" >R1</text><text x="623" y="553" font-size="21" fill="#eefdf6" font-weight="bold" textLength="23" lengthAdjust="spacingAndGlyphs" >R2</text><text x="623" y="578" font-size="21" fill="#eefdf6" font-weight="bold" textLength="23" lengthAdjust="spacingAndGlyphs" >R3</text><text x="775" y="385" font-size="36" fill="#eefdf6" font-weight="bold" textLength="19" lengthAdjust="spacingAndGlyphs" >S</text><text x="775" y="471" font-size="36" fill="#eefdf6" font-weight="bold" textLength="19" lengthAdjust="spacingAndGlyphs" >S</text><text x="799" y="469" font-size="26" fill="#eefdf6" font-weight="bold" textLength="12" lengthAdjust="spacingAndGlyphs" >+</text><text x="802" y="604" font-size="21.5" fill="#eefdf6" font-weight="bold" textLength="66" lengthAdjust="spacingAndGlyphs" transform="rotate(-90 802 604)" >ON/OFF</text><path d="M458 664 V640.5 H502 M458 688 V713 H464" fill="none" stroke="#eefdf6" stroke-width="2"/><path d="M553 664 V640.5 H597 M553 688 V713 H559" fill="none" stroke="#eefdf6" stroke-width="2"/><path d="M643 664 V640.5 H687 M643 688 V713 H649" fill="none" stroke="#eefdf6" stroke-width="2"/><path d="M391 553 V577 H398" fill="none" stroke="#eefdf6" stroke-width="2"/><path d="M446 553 V577 H453" fill="none" stroke="#eefdf6" stroke-width="2"/><path d="M506 526 V550 H513" fill="none" stroke="#eefdf6" stroke-width="2"/><path d="M600 598 V625 H607" fill="none" stroke="#eefdf6" stroke-width="2"/><path d="M371 619 H432 M371 619 V640" fill="none" stroke="#eefdf6" stroke-width="1.5" opacity="0.6"/></g>
<circle cx="325.5" cy="330" r="16.5" fill="#b4b7b9" />
<circle cx="326.5" cy="328.5" r="13.5" fill="#fdfdfd" />
<g filter="url(#b1)" opacity="0.9"><rect x="330" y="348" width="36" height="43" rx="18" fill="#056a4c" stroke="#056a4c" stroke-width="9"/><ellipse cx="312" cy="367" rx="30.5" ry="23.5" fill="#056a4c" stroke="#056a4c" stroke-width="9"/><rect x="281" y="431" width="87" height="45" rx="21" fill="#056a4c" stroke="#056a4c" stroke-width="9"/><rect x="290" y="398" width="72" height="42" rx="20" fill="#056a4c" stroke="#056a4c" stroke-width="9"/><rect x="279" y="535" width="84" height="42" rx="21" fill="#056a4c" stroke="#056a4c" stroke-width="9"/><rect x="291" y="585.5" width="66" height="38.5" rx="19" fill="#056a4c" stroke="#056a4c" stroke-width="9"/><rect x="279" y="618" width="87.5" height="42" rx="21" fill="#056a4c" stroke="#056a4c" stroke-width="9"/></g>
<g filter="url(#metal)"><rect x="330" y="348" width="36" height="43" rx="18" fill="#b9babd"/><ellipse cx="312" cy="367" rx="30.5" ry="23.5" fill="url(#solg1)"/><rect x="281" y="431" width="87" height="45" rx="21" fill="#a3a7ab"/><rect x="290" y="398" width="72" height="42" rx="20" fill="#dedede"/><rect x="279" y="535" width="84" height="42" rx="21" fill="url(#solg1)"/><rect x="291" y="585.5" width="66" height="38.5" rx="19" fill="#c8c8ca"/><rect x="279" y="618" width="87.5" height="42" rx="21" fill="#b5b7ba"/><rect x="663" y="348" width="83" height="48" rx="23" fill="#c6c2c2"/><rect x="672" y="380" width="40" height="48" rx="8" fill="#bdb9b9"/><ellipse cx="722" cy="404" rx="18.5" ry="18.5" fill="#e8e8e8"/><rect x="649" y="432" width="100" height="48" rx="24" fill="#c2bfbf"/><rect x="682" y="521" width="63.5" height="34.5" rx="17" fill="#cbc8c8"/><rect x="682" y="571" width="63.5" height="34" rx="17" fill="#cbc8c8"/></g>
<g filter="url(#b1)"><ellipse cx="316" cy="360" rx="20" ry="11" fill="#ffffff" filter="url(#b3)" opacity="0.95"/><ellipse cx="316" cy="385" rx="22" ry="6" fill="#505256" filter="url(#b2)" opacity="0.8"/><ellipse cx="320" cy="432" rx="15" ry="12" fill="#55575a" filter="url(#b2)" opacity="0.9"/><ellipse cx="303" cy="413" rx="10" ry="13" fill="#ffffff" filter="url(#b2)" opacity="0.9"/><ellipse cx="312" cy="549" rx="24" ry="9" fill="#ffffff" filter="url(#b3)" opacity="0.95"/><ellipse cx="322" cy="571" rx="30" ry="4" fill="#5a5c60" filter="url(#b2)" opacity="0.7"/><ellipse cx="322" cy="614" rx="13" ry="11" fill="#6c6e72" filter="url(#b2)" opacity="0.9"/><ellipse cx="303" cy="636" rx="16" ry="9" fill="#f4f4f4" filter="url(#b3)" opacity="0.8"/><ellipse cx="722" cy="403" rx="14" ry="14" fill="#ffffff" filter="url(#b2)" opacity="0.95"/><ellipse cx="722" cy="452" rx="19" ry="15" fill="#ececee" filter="url(#b2)" opacity="0.9"/><ellipse cx="700" cy="420" rx="10" ry="5" fill="#77706e" filter="url(#b2)" opacity="0.7"/><circle cx="326" cy="454" r="10" fill="#fbfbfb" /><circle cx="324.5" cy="637" r="9.5" fill="#fbfbfb" /><circle cx="703" cy="370" r="9.5" fill="#fcfcfc" /><circle cx="661" cy="454.5" r="9.5" fill="#fbfbfb" /><circle cx="349" cy="373.5" r="2.4" fill="#1c1c1c" /><circle cx="348" cy="419" r="2.4" fill="#1c1c1c" /><circle cx="349" cy="456" r="2.4" fill="#1c1c1c" /><circle cx="347" cy="559" r="2.4" fill="#1c1c1c" /><circle cx="302" cy="604" r="2.4" fill="#1c1c1c" /><circle cx="345" cy="604" r="2.4" fill="#1c1c1c" /><circle cx="347" cy="637" r="2.4" fill="#1c1c1c" /><circle cx="682" cy="372" r="1.9" fill="#222" /><circle cx="682" cy="409" r="1.9" fill="#222" /><circle cx="728" cy="368" r="1.9" fill="#222" /><circle cx="682" cy="455" r="1.9" fill="#222" /><circle cx="728" cy="455" r="1.9" fill="#222" /><circle cx="712" cy="538" r="6.5" fill="#fcfcfc" stroke="#e4e4e4" stroke-width="2.5"/><circle cx="692" cy="539" r="2" fill="#222" /><circle cx="735" cy="538" r="2" fill="#222" /><circle cx="712" cy="588" r="6.5" fill="#fcfcfc" stroke="#e4e4e4" stroke-width="2.5"/><circle cx="692" cy="589" r="2" fill="#222" /><circle cx="735" cy="588" r="2" fill="#222" /></g>
<g filter="url(#metal2)"><rect x="497" y="332" width="18" height="54" rx="1" fill="#bdbdc0" /><rect x="498" y="333" width="16" height="26" rx="1" fill="#f6f6f6" opacity="0.6"/><rect x="497" y="428" width="18" height="54" rx="1" fill="#bdbdc0" /><rect x="498" y="429" width="16" height="26" rx="1" fill="#f6f6f6" opacity="0.6"/><rect x="478" y="330" width="22" height="58" rx="1.5" fill="#d9d9dc" /><rect x="479" y="331" width="20" height="28" rx="1.5" fill="#f6f6f6" opacity="0.6"/><circle cx="484" cy="342" r="1.8" fill="#1a1a1a" /><circle cx="494" cy="342" r="1.8" fill="#1a1a1a" /><circle cx="484" cy="356" r="1.8" fill="#1a1a1a" /><circle cx="484" cy="370" r="1.8" fill="#1a1a1a" /><rect x="481" y="426" width="19" height="58" rx="1.5" fill="#d9d9dc" /><rect x="482" y="427" width="17" height="28" rx="1.5" fill="#f6f6f6" opacity="0.6"/><circle cx="486" cy="438" r="1.8" fill="#1a1a1a" /><circle cx="496" cy="438" r="1.8" fill="#1a1a1a" /><circle cx="486" cy="452" r="1.8" fill="#1a1a1a" /><circle cx="486" cy="466" r="1.8" fill="#1a1a1a" /><rect x="619" y="334" width="31" height="56" rx="1.5" fill="#d9d9dc" /><rect x="620" y="335" width="29" height="27" rx="1.5" fill="#f6f6f6" opacity="0.6"/><circle cx="630" cy="342" r="1.8" fill="#1a1a1a" /><circle cx="642" cy="342" r="1.8" fill="#1a1a1a" /><circle cx="630" cy="356" r="1.8" fill="#1a1a1a" /><circle cx="642" cy="356" r="1.8" fill="#1a1a1a" /><rect x="619" y="426" width="31" height="58" rx="1.5" fill="#d9d9dc" /><rect x="620" y="427" width="29" height="28" rx="1.5" fill="#f6f6f6" opacity="0.6"/><circle cx="639" cy="439" r="1.8" fill="#1a1a1a" /><circle cx="639" cy="454" r="1.8" fill="#1a1a1a" /><rect x="657" y="409" width="21" height="34" rx="3" fill="#e6e6e6" /><rect x="658" y="410" width="19" height="16" rx="3" fill="#f6f6f6" opacity="0.6"/><rect x="387" y="365" width="50" height="21" rx="3" fill="#d4d4d6" /><rect x="388" y="366" width="48" height="9.5" rx="3" fill="#f6f6f6" opacity="0.6"/><rect x="441" y="337" width="25" height="49" rx="3" fill="#e2e2e4" /><rect x="442" y="338" width="23" height="23.5" rx="3" fill="#f6f6f6" opacity="0.6"/><rect x="389" y="397" width="19" height="35" rx="2" fill="#e9e9ea" /><rect x="390" y="398" width="17" height="16.5" rx="2" fill="#f6f6f6" opacity="0.6"/><rect x="410" y="397" width="11" height="35" rx="2" fill="#e9e9ea" /><rect x="411" y="398" width="9" height="16.5" rx="2" fill="#f6f6f6" opacity="0.6"/><rect x="427" y="397" width="11" height="35" rx="2" fill="#e9e9ea" /><rect x="428" y="398" width="9" height="16.5" rx="2" fill="#f6f6f6" opacity="0.6"/><rect x="448" y="397" width="11" height="35" rx="2" fill="#e9e9ea" /><rect x="449" y="398" width="9" height="16.5" rx="2" fill="#f6f6f6" opacity="0.6"/><rect x="385" y="486" width="11" height="34" rx="2" fill="#d0d0d3" /><rect x="386" y="487" width="9" height="16" rx="2" fill="#f6f6f6" opacity="0.6"/><rect x="404" y="486" width="13" height="34" rx="2" fill="#d0d0d3" /><rect x="405" y="487" width="11" height="16" rx="2" fill="#f6f6f6" opacity="0.6"/><rect x="424" y="486" width="13" height="34" rx="2" fill="#d0d0d3" /><rect x="425" y="487" width="11" height="16" rx="2" fill="#f6f6f6" opacity="0.6"/><rect x="444" y="486" width="12" height="34" rx="2" fill="#d0d0d3" /><rect x="445" y="487" width="10" height="16" rx="2" fill="#f6f6f6" opacity="0.6"/><rect x="394" y="537" width="17" height="21" rx="1.5" fill="#d9d9dc" /><rect x="395" y="538" width="15" height="9.5" rx="1.5" fill="#f6f6f6" opacity="0.6"/><rect x="422" y="537" width="20" height="21" rx="1.5" fill="#d9d9dc" /><rect x="423" y="538" width="18" height="9.5" rx="1.5" fill="#f6f6f6" opacity="0.6"/><rect x="409" y="572" width="20" height="19" rx="1.5" fill="#d9d9dc" /><rect x="410" y="573" width="18" height="8.5" rx="1.5" fill="#f6f6f6" opacity="0.6"/><rect x="450" y="537" width="17" height="21" rx="1.5" fill="#d9d9dc" /><rect x="451" y="538" width="15" height="9.5" rx="1.5" fill="#f6f6f6" opacity="0.6"/><rect x="480" y="537" width="17" height="21" rx="1.5" fill="#d9d9dc" /><rect x="481" y="538" width="15" height="9.5" rx="1.5" fill="#f6f6f6" opacity="0.6"/><rect x="466" y="572" width="18" height="19" rx="1.5" fill="#d9d9dc" /><rect x="467" y="573" width="16" height="8.5" rx="1.5" fill="#f6f6f6" opacity="0.6"/><rect x="507" y="512" width="20" height="19" rx="1.5" fill="#d9d9dc" /><rect x="508" y="513" width="18" height="8.5" rx="1.5" fill="#f6f6f6" opacity="0.6"/><rect x="540" y="512" width="17" height="19" rx="1.5" fill="#d9d9dc" /><rect x="541" y="513" width="15" height="8.5" rx="1.5" fill="#f6f6f6" opacity="0.6"/><rect x="525" y="545" width="17" height="17" rx="1.5" fill="#d9d9dc" /><rect x="526" y="546" width="15" height="7.5" rx="1.5" fill="#f6f6f6" opacity="0.6"/><rect x="606" y="586" width="14" height="17" rx="1.5" fill="#d9d9dc" /><rect x="607" y="587" width="12" height="7.5" rx="1.5" fill="#f6f6f6" opacity="0.6"/><rect x="633" y="586" width="16" height="17" rx="1.5" fill="#d9d9dc" /><rect x="634" y="587" width="14" height="7.5" rx="1.5" fill="#f6f6f6" opacity="0.6"/><rect x="618" y="620" width="16" height="15" rx="1.5" fill="#d9d9dc" /><rect x="619" y="621" width="14" height="6.5" rx="1.5" fill="#f6f6f6" opacity="0.6"/><rect x="570" y="507" width="49" height="19" rx="2.5" fill="#e4e4e4" /><rect x="571" y="508" width="47" height="8.5" rx="2.5" fill="#f6f6f6" opacity="0.6"/><rect x="571" y="534" width="48" height="21" rx="2.5" fill="#e4e4e4" /><rect x="572" y="535" width="46" height="9.5" rx="2.5" fill="#f6f6f6" opacity="0.6"/><rect x="572" y="561" width="47" height="21" rx="2.5" fill="#e4e4e4" /><rect x="573" y="562" width="45" height="9.5" rx="2.5" fill="#f6f6f6" opacity="0.6"/><rect x="454" y="605" width="50" height="22" rx="2.5" fill="#e4e4e4" /><rect x="455" y="606" width="48" height="10" rx="2.5" fill="#f6f6f6" opacity="0.6"/><rect x="514" y="620" width="18" height="15" rx="1.5" fill="#d9d9dc" /><rect x="515" y="621" width="16" height="6.5" rx="1.5" fill="#f6f6f6" opacity="0.6"/><rect x="568" y="620" width="18" height="15" rx="1.5" fill="#d9d9dc" /><rect x="569" y="621" width="16" height="6.5" rx="1.5" fill="#f6f6f6" opacity="0.6"/><rect x="439" y="665" width="18" height="18" rx="1.5" fill="#d9d9dc" /><rect x="440" y="666" width="16" height="8" rx="1.5" fill="#f6f6f6" opacity="0.6"/><circle cx="447" cy="674" r="1.8" fill="#1a1a1a" /><rect x="502" y="642" width="24" height="17" rx="3" fill="#d9d9dc" /><rect x="503" y="643" width="22" height="7.5" rx="3" fill="#f6f6f6" opacity="0.6"/><rect x="502" y="670" width="24" height="12" rx="3" fill="#d9d9dc" /><rect x="503" y="671" width="22" height="5" rx="3" fill="#f6f6f6" opacity="0.6"/><circle cx="520" cy="676" r="1.8" fill="#1a1a1a" /><rect x="502" y="692" width="24" height="12" rx="3" fill="#d9d9dc" /><rect x="503" y="693" width="22" height="5" rx="3" fill="#f6f6f6" opacity="0.6"/><rect x="527" y="665" width="25" height="18" rx="1.5" fill="#d9d9dc" /><rect x="528" y="666" width="23" height="8" rx="1.5" fill="#f6f6f6" opacity="0.6"/><circle cx="535" cy="674" r="1.8" fill="#1a1a1a" /><rect x="600" y="642" width="25" height="17" rx="3" fill="#d9d9dc" /><rect x="601" y="643" width="23" height="7.5" rx="3" fill="#f6f6f6" opacity="0.6"/><rect x="600" y="670" width="25" height="12" rx="3" fill="#d9d9dc" /><rect x="601" y="671" width="23" height="5" rx="3" fill="#f6f6f6" opacity="0.6"/><circle cx="619" cy="676" r="1.8" fill="#1a1a1a" /><rect x="600" y="692" width="25" height="12" rx="3" fill="#d9d9dc" /><rect x="601" y="693" width="23" height="5" rx="3" fill="#f6f6f6" opacity="0.6"/><rect x="690" y="642" width="24" height="17" rx="3" fill="#d9d9dc" /><rect x="691" y="643" width="22" height="7.5" rx="3" fill="#f6f6f6" opacity="0.6"/><rect x="690" y="670" width="24" height="12" rx="3" fill="#d9d9dc" /><rect x="691" y="671" width="22" height="5" rx="3" fill="#f6f6f6" opacity="0.6"/><circle cx="708" cy="676" r="1.8" fill="#1a1a1a" /><rect x="690" y="692" width="24" height="12" rx="3" fill="#d9d9dc" /><rect x="691" y="693" width="22" height="5" rx="3" fill="#f6f6f6" opacity="0.6"/><rect x="625" y="668" width="17" height="14" rx="3" fill="#d9d9dc" /><rect x="626" y="669" width="15" height="6" rx="3" fill="#f6f6f6" opacity="0.6"/><circle cx="634" cy="675" r="1.8" fill="#1a1a1a" /><rect x="692" y="670" width="24" height="12" rx="3" fill="#d9d9dc" /><rect x="693" y="671" width="22" height="5" rx="3" fill="#f6f6f6" opacity="0.6"/><circle cx="709" cy="676" r="1.8" fill="#1a1a1a" /></g>
<g filter="url(#b1)"><rect x="514" y="410" width="105.5" height="8.5" rx="0" fill="#0c3a2b" /><rect x="513" y="320" width="107" height="92" rx="1.5" fill="#1c1c1f" /><rect x="514" y="321" width="105" height="4" rx="0" fill="#3c3c40" opacity="0.7"/><rect x="521.5" y="322" width="1.2" height="87" rx="0" fill="#47474c" /><rect x="524.5" y="322" width="1.2" height="87" rx="0" fill="#47474c" /><rect x="527.5" y="322" width="1.2" height="87" rx="0" fill="#47474c" /><rect x="530.8" y="322" width="1.2" height="87" rx="0" fill="#47474c" /><text x="539.5" y="381" font-size="43" fill="#8c8c90" font-weight="normal" textLength="67" lengthAdjust="spacingAndGlyphs" stroke="#1c1c1f" stroke-width="1.1">SS54</text><rect x="513" y="417" width="107" height="88" rx="1.5" fill="#1c1c1f" /><rect x="514" y="418" width="105" height="4" rx="0" fill="#3c3c40" opacity="0.7"/><rect x="521.5" y="419" width="1.2" height="83" rx="0" fill="#47474c" /><rect x="524.5" y="419" width="1.2" height="83" rx="0" fill="#47474c" /><rect x="527.5" y="419" width="1.2" height="83" rx="0" fill="#47474c" /><rect x="530.8" y="419" width="1.2" height="83" rx="0" fill="#47474c" /><text x="539.5" y="474" font-size="43" fill="#8c8c90" font-weight="normal" textLength="67" lengthAdjust="spacingAndGlyphs" stroke="#1c1c1f" stroke-width="1.1">SS54</text><rect x="660" y="417" width="16" height="19" rx="1" fill="#18181b" /><text x="671" y="434" font-size="7.5" fill="#ddd" font-weight="bold" textLength="14" lengthAdjust="spacingAndGlyphs" transform="rotate(-90 671 434)" >1003</text><rect x="401" y="367" width="20" height="17" rx="1" fill="#b07a58" /><rect x="445" y="350" width="17" height="24" rx="1" fill="#17171a" /><text x="457" y="371" font-size="9" fill="#eee" font-weight="bold" textLength="15" lengthAdjust="spacingAndGlyphs" transform="rotate(-90 457 371)" >101</text><circle cx="397" cy="415" r="3" fill="#1a1a1a" /><circle cx="430" cy="508" r="2.6" fill="#1a1a1a" /><circle cx="450" cy="508" r="2.6" fill="#1a1a1a" /><rect x="382" y="430" width="77" height="57" rx="2" fill="#2a2a2e" /><rect x="383" y="431" width="75" height="4" rx="0" fill="#38383c" opacity="0.6"/><rect x="376" y="441" width="6" height="34" rx="1" fill="#d8d8d8" opacity="0.8"/><rect x="395" y="556" width="46" height="18" rx="1.5" fill="#2a2a2e" /><rect x="396" y="557" width="44" height="3" rx="1" fill="#3a3a3e" opacity="0.6"/><rect x="450" y="556" width="46" height="18" rx="1.5" fill="#2a2a2e" /><rect x="451" y="557" width="44" height="3" rx="1" fill="#3a3a3e" opacity="0.6"/><rect x="510" y="529" width="46" height="18" rx="1.5" fill="#2a2a2e" /><rect x="511" y="530" width="44" height="3" rx="1" fill="#3a3a3e" opacity="0.6"/><rect x="604" y="601" width="45" height="21" rx="1.5" fill="#2a2a2e" /><rect x="605" y="602" width="43" height="3" rx="1" fill="#3a3a3e" opacity="0.6"/><rect x="584" y="509" width="22" height="15" rx="1" fill="#17171a" /><text x="595" y="519.7" font-size="8.5" fill="#e8e8e8" font-weight="bold" textLength="17" lengthAdjust="spacingAndGlyphs" text-anchor="middle" >h029</text><rect x="584" y="536" width="22" height="17" rx="1" fill="#17171a" /><text x="595" y="547.7" font-size="8.5" fill="#e8e8e8" font-weight="bold" textLength="17" lengthAdjust="spacingAndGlyphs" text-anchor="middle" >2403</text><rect x="584" y="563" width="22" height="17" rx="1" fill="#17171a" /><text x="595" y="574.7" font-size="8.5" fill="#e8e8e8" font-weight="bold" textLength="17" lengthAdjust="spacingAndGlyphs" text-anchor="middle" >6201</text><rect x="469" y="607" width="21" height="18" rx="1" fill="#17171a" /><text x="479.5" y="619.2" font-size="8.5" fill="#e8e8e8" font-weight="bold" textLength="16" lengthAdjust="spacingAndGlyphs" text-anchor="middle" >2022</text><rect x="530" y="616" width="40" height="21.5" rx="1" fill="#222226" /><rect x="534" y="617" width="3" height="20" rx="0" fill="#4a4a50" /><rect x="524" y="609.5" width="46" height="3" rx="0" fill="#eefdf6" /><text x="544" y="632" font-size="10" fill="#666" font-weight="normal" >T4</text><rect x="372.7" y="620" width="58.3" height="28" rx="1.5" fill="#f1f1f1" /><rect x="381" y="634" width="48" height="2.5" rx="1" fill="#5a5a5a" /><rect x="398" y="632" width="12" height="7" rx="0" fill="#f1f1f1" /><rect x="376" y="693" width="55" height="20.4" rx="1.5" fill="#ebebeb" /><rect x="382" y="704" width="46" height="2.5" rx="1" fill="#5a5a5a" /><rect x="398" y="702" width="12" height="7" rx="0" fill="#ebebeb" /><rect x="380.4" y="646.5" width="49.6" height="49.5" rx="1" fill="#38383c" /><rect x="375" y="651" width="3.5" height="36" rx="1" fill="#eefdf6" /><text x="409" y="661.5" font-size="23" fill="#f4f4f4" font-weight="bold" textLength="23.5" lengthAdjust="spacingAndGlyphs" transform="rotate(90 409 661.5)" >JK</text><text x="387" y="655" font-size="23.5" fill="#f4f4f4" font-weight="bold" textLength="36.5" lengthAdjust="spacingAndGlyphs" transform="rotate(90 387 655)" >075</text><rect x="455" y="663" width="13" height="22" rx="2" fill="#b9b9bc" /><rect x="466" y="642" width="38" height="69" rx="1.5" fill="#2a2a2e" /><rect x="467.5" y="643.5" width="35" height="3.5" rx="1" fill="#36363a" opacity="0.55"/><rect x="550" y="663" width="13" height="22" rx="2" fill="#b9b9bc" /><rect x="561" y="642" width="41" height="69" rx="1.5" fill="#2a2a2e" /><rect x="562.5" y="643.5" width="38" height="3.5" rx="1" fill="#36363a" opacity="0.55"/><rect x="640" y="663" width="12" height="22" rx="2" fill="#b9b9bc" /><rect x="650" y="642" width="42" height="69" rx="1.5" fill="#2a2a2e" /><rect x="651.5" y="643.5" width="39" height="3.5" rx="1" fill="#36363a" opacity="0.55"/></g>
<circle cx="778" cy="678" r="24.5" fill="#ffffff" />
</g>
<polygon points="553,727 946,724.5 947.3,985.5 558,988.5 553,982" fill="url(#pg2)"/>
<g clip-path="url(#pc2)">
<g filter="url(#b1)"><circle cx="921.5" cy="747" r="32" fill="#0f8049" stroke="#05452f" stroke-width="1.6" stroke-opacity="0.5"/><rect x="590.4" y="757" width="57.6" height="91" rx="0" fill="#05452f" /><path d="M640 760 A16 16 0 0 1 652 786 A16 16 0 0 1 652 818 A16 16 0 0 1 640 846 Z" fill="#05452f"/><circle cx="633" cy="776" r="12.5" fill="#128050" /><circle cx="633" cy="801" r="11" fill="#128050" /><circle cx="633" cy="829" r="12.5" fill="#128050" /><rect x="606" y="764" width="28" height="26" rx="8" fill="#128050" /><rect x="593" y="876" width="57" height="90" rx="0" fill="#05452f" /><rect x="600" y="886" width="48" height="45" rx="11" fill="#128050" /><circle cx="634" cy="950" r="13" fill="#128050" /><rect x="620" y="925" width="20" height="20" rx="0" fill="#128050" /><rect x="658" y="882" width="61" height="85" rx="9" fill="url(#pg2)" stroke="#05452f" stroke-width="8"/><rect x="723" y="879" width="41" height="121" rx="7" fill="url(#pg2)" stroke="#05452f" stroke-width="7"/><rect x="650" y="875" width="74" height="9" rx="3" fill="#05452f" /><path d="M798 849 H832 L842 860 V916 H794 V853 Q794 849 798 849 Z" fill="#05452f"/><rect x="808" y="861" width="22" height="23" rx="4" fill="url(#pg2)" /><rect x="802" y="882" width="34" height="26" rx="3" fill="url(#pg2)" /><rect x="836" y="886" width="24" height="14" rx="0" fill="#05452f" /><rect x="780" y="941" width="67" height="38" rx="10" fill="#05452f" /><rect x="787" y="948" width="53" height="24" rx="6" fill="url(#pg2)" /><rect x="858" y="876" width="59" height="86" rx="0" fill="#05452f" /><rect x="850" y="790" width="50" height="34" rx="17" fill="#05452f" /><rect x="857" y="797" width="36" height="20" rx="10" fill="#0d744a" /><rect x="850" y="824" width="50" height="34" rx="17" fill="#05452f" /><rect x="857" y="831" width="36" height="20" rx="10" fill="#0d744a" /></g>
<g filter="url(#b1)"><circle cx="704" cy="748.8" r="1.5" fill="#03382a" /><circle cx="704.5" cy="749.4" r="0.8" fill="#1a8a5a" opacity="0.5"/><circle cx="710.2" cy="748.8" r="1.5" fill="#03382a" /><circle cx="710.8" cy="749.4" r="0.8" fill="#1a8a5a" opacity="0.5"/><circle cx="716.5" cy="748.7" r="1.5" fill="#03382a" /><circle cx="717" cy="749.3" r="0.8" fill="#1a8a5a" opacity="0.5"/><circle cx="722.8" cy="748.7" r="1.5" fill="#03382a" /><circle cx="723.2" cy="749.3" r="0.8" fill="#1a8a5a" opacity="0.5"/><circle cx="729" cy="748.6" r="1.5" fill="#03382a" /><circle cx="729.5" cy="749.2" r="0.8" fill="#1a8a5a" opacity="0.5"/><circle cx="735.2" cy="748.6" r="1.5" fill="#03382a" /><circle cx="735.8" cy="749.2" r="0.8" fill="#1a8a5a" opacity="0.5"/><circle cx="741.5" cy="748.5" r="1.5" fill="#03382a" /><circle cx="742" cy="749.1" r="0.8" fill="#1a8a5a" opacity="0.5"/><circle cx="747.8" cy="748.5" r="1.5" fill="#03382a" /><circle cx="748.2" cy="749.1" r="0.8" fill="#1a8a5a" opacity="0.5"/><circle cx="754" cy="748.4" r="1.5" fill="#03382a" /><circle cx="754.5" cy="749" r="0.8" fill="#1a8a5a" opacity="0.5"/><circle cx="760.2" cy="748.4" r="1.5" fill="#03382a" /><circle cx="760.8" cy="749" r="0.8" fill="#1a8a5a" opacity="0.5"/><circle cx="766.5" cy="748.3" r="1.5" fill="#03382a" /><circle cx="767" cy="748.9" r="0.8" fill="#1a8a5a" opacity="0.5"/><circle cx="772.8" cy="748.3" r="1.5" fill="#03382a" /><circle cx="773.2" cy="748.9" r="0.8" fill="#1a8a5a" opacity="0.5"/><circle cx="779" cy="748.3" r="1.5" fill="#03382a" /><circle cx="779.5" cy="748.9" r="0.8" fill="#1a8a5a" opacity="0.5"/><circle cx="785.2" cy="748.2" r="1.5" fill="#03382a" /><circle cx="785.8" cy="748.8" r="0.8" fill="#1a8a5a" opacity="0.5"/><circle cx="791.5" cy="748.2" r="1.5" fill="#03382a" /><circle cx="792" cy="748.8" r="0.8" fill="#1a8a5a" opacity="0.5"/><circle cx="797.8" cy="748.1" r="1.5" fill="#03382a" /><circle cx="798.2" cy="748.7" r="0.8" fill="#1a8a5a" opacity="0.5"/><circle cx="804" cy="748.1" r="1.5" fill="#03382a" /><circle cx="804.5" cy="748.7" r="0.8" fill="#1a8a5a" opacity="0.5"/><circle cx="810.2" cy="748" r="1.5" fill="#03382a" /><circle cx="810.8" cy="748.6" r="0.8" fill="#1a8a5a" opacity="0.5"/><circle cx="816.5" cy="748" r="1.5" fill="#03382a" /><circle cx="817" cy="748.6" r="0.8" fill="#1a8a5a" opacity="0.5"/><circle cx="822.8" cy="747.9" r="1.5" fill="#03382a" /><circle cx="823.2" cy="748.5" r="0.8" fill="#1a8a5a" opacity="0.5"/><circle cx="829" cy="747.9" r="1.5" fill="#03382a" /><circle cx="829.5" cy="748.5" r="0.8" fill="#1a8a5a" opacity="0.5"/><circle cx="835.2" cy="747.9" r="1.5" fill="#03382a" /><circle cx="835.8" cy="748.5" r="0.8" fill="#1a8a5a" opacity="0.5"/><circle cx="841.5" cy="747.8" r="1.5" fill="#03382a" /><circle cx="842" cy="748.4" r="0.8" fill="#1a8a5a" opacity="0.5"/><circle cx="847.8" cy="747.8" r="1.5" fill="#03382a" /><circle cx="848.2" cy="748.4" r="0.8" fill="#1a8a5a" opacity="0.5"/><circle cx="854" cy="747.7" r="1.5" fill="#03382a" /><circle cx="854.5" cy="748.3" r="0.8" fill="#1a8a5a" opacity="0.5"/><circle cx="860.2" cy="747.7" r="1.5" fill="#03382a" /><circle cx="860.8" cy="748.3" r="0.8" fill="#1a8a5a" opacity="0.5"/><circle cx="866.5" cy="747.6" r="1.5" fill="#03382a" /><circle cx="867" cy="748.2" r="0.8" fill="#1a8a5a" opacity="0.5"/><circle cx="872.8" cy="747.6" r="1.5" fill="#03382a" /><circle cx="873.2" cy="748.2" r="0.8" fill="#1a8a5a" opacity="0.5"/><circle cx="879" cy="747.5" r="1.5" fill="#03382a" /><circle cx="879.5" cy="748.1" r="0.8" fill="#1a8a5a" opacity="0.5"/><circle cx="668" cy="851.6" r="2" fill="#03382a" /><circle cx="668.5" cy="852.2" r="1" fill="#1a8a5a" opacity="0.5"/><circle cx="668" cy="859.5" r="2" fill="#03382a" /><circle cx="668.5" cy="860.1" r="1" fill="#1a8a5a" opacity="0.5"/><circle cx="668" cy="867" r="2" fill="#03382a" /><circle cx="668.5" cy="867.6" r="1" fill="#1a8a5a" opacity="0.5"/><circle cx="681" cy="851.6" r="2" fill="#03382a" /><circle cx="681.5" cy="852.2" r="1" fill="#1a8a5a" opacity="0.5"/><circle cx="681" cy="859.5" r="2" fill="#03382a" /><circle cx="681.5" cy="860.1" r="1" fill="#1a8a5a" opacity="0.5"/><circle cx="681" cy="867" r="2" fill="#03382a" /><circle cx="681.5" cy="867.6" r="1" fill="#1a8a5a" opacity="0.5"/><circle cx="694.5" cy="851.6" r="2" fill="#03382a" /><circle cx="695" cy="852.2" r="1" fill="#1a8a5a" opacity="0.5"/><circle cx="694.5" cy="859.5" r="2" fill="#03382a" /><circle cx="695" cy="860.1" r="1" fill="#1a8a5a" opacity="0.5"/><circle cx="694.5" cy="867" r="2" fill="#03382a" /><circle cx="695" cy="867.6" r="1" fill="#1a8a5a" opacity="0.5"/><circle cx="707" cy="851.6" r="2" fill="#03382a" /><circle cx="707.5" cy="852.2" r="1" fill="#1a8a5a" opacity="0.5"/><circle cx="707" cy="859.5" r="2" fill="#03382a" /><circle cx="707.5" cy="860.1" r="1" fill="#1a8a5a" opacity="0.5"/><circle cx="707" cy="867" r="2" fill="#03382a" /><circle cx="707.5" cy="867.6" r="1" fill="#1a8a5a" opacity="0.5"/><circle cx="666.5" cy="889" r="2" fill="#03382a" /><circle cx="667" cy="889.6" r="1" fill="#1a8a5a" opacity="0.5"/><circle cx="666.5" cy="897" r="2" fill="#03382a" /><circle cx="667" cy="897.6" r="1" fill="#1a8a5a" opacity="0.5"/><circle cx="676" cy="889" r="2" fill="#03382a" /><circle cx="676.5" cy="889.6" r="1" fill="#1a8a5a" opacity="0.5"/><circle cx="676" cy="897" r="2" fill="#03382a" /><circle cx="676.5" cy="897.6" r="1" fill="#1a8a5a" opacity="0.5"/><circle cx="685.5" cy="889" r="2" fill="#03382a" /><circle cx="686" cy="889.6" r="1" fill="#1a8a5a" opacity="0.5"/><circle cx="685.5" cy="897" r="2" fill="#03382a" /><circle cx="686" cy="897.6" r="1" fill="#1a8a5a" opacity="0.5"/><circle cx="695" cy="889" r="2" fill="#03382a" /><circle cx="695.5" cy="889.6" r="1" fill="#1a8a5a" opacity="0.5"/><circle cx="695" cy="897" r="2" fill="#03382a" /><circle cx="695.5" cy="897.6" r="1" fill="#1a8a5a" opacity="0.5"/><circle cx="704.5" cy="889" r="2" fill="#03382a" /><circle cx="705" cy="889.6" r="1" fill="#1a8a5a" opacity="0.5"/><circle cx="704.5" cy="897" r="2" fill="#03382a" /><circle cx="705" cy="897.6" r="1" fill="#1a8a5a" opacity="0.5"/><circle cx="675" cy="909" r="2" fill="#03382a" /><circle cx="675.5" cy="909.6" r="1" fill="#1a8a5a" opacity="0.5"/><circle cx="675" cy="919" r="2" fill="#03382a" /><circle cx="675.5" cy="919.6" r="1" fill="#1a8a5a" opacity="0.5"/><circle cx="707" cy="909" r="2" fill="#03382a" /><circle cx="707.5" cy="909.6" r="1" fill="#1a8a5a" opacity="0.5"/><circle cx="707" cy="919" r="2" fill="#03382a" /><circle cx="707.5" cy="919.6" r="1" fill="#1a8a5a" opacity="0.5"/><circle cx="707" cy="929" r="2" fill="#03382a" /><circle cx="707.5" cy="929.6" r="1" fill="#1a8a5a" opacity="0.5"/><circle cx="658" cy="920" r="2" fill="#03382a" /><circle cx="658.5" cy="920.6" r="1" fill="#1a8a5a" opacity="0.5"/><circle cx="730.5" cy="889" r="2" fill="#03382a" /><circle cx="731" cy="889.6" r="1" fill="#1a8a5a" opacity="0.5"/><circle cx="730.5" cy="897.5" r="2" fill="#03382a" /><circle cx="731" cy="898.1" r="1" fill="#1a8a5a" opacity="0.5"/><circle cx="730.5" cy="906" r="2" fill="#03382a" /><circle cx="731" cy="906.6" r="1" fill="#1a8a5a" opacity="0.5"/><circle cx="730.5" cy="950" r="2" fill="#03382a" /><circle cx="731" cy="950.6" r="1" fill="#1a8a5a" opacity="0.5"/><circle cx="730.5" cy="958.5" r="2" fill="#03382a" /><circle cx="731" cy="959.1" r="1" fill="#1a8a5a" opacity="0.5"/><circle cx="730.5" cy="967" r="2" fill="#03382a" /><circle cx="731" cy="967.6" r="1" fill="#1a8a5a" opacity="0.5"/><circle cx="739" cy="889" r="2" fill="#03382a" /><circle cx="739.5" cy="889.6" r="1" fill="#1a8a5a" opacity="0.5"/><circle cx="739" cy="897.5" r="2" fill="#03382a" /><circle cx="739.5" cy="898.1" r="1" fill="#1a8a5a" opacity="0.5"/><circle cx="739" cy="906" r="2" fill="#03382a" /><circle cx="739.5" cy="906.6" r="1" fill="#1a8a5a" opacity="0.5"/><circle cx="739" cy="950" r="2" fill="#03382a" /><circle cx="739.5" cy="950.6" r="1" fill="#1a8a5a" opacity="0.5"/><circle cx="739" cy="958.5" r="2" fill="#03382a" /><circle cx="739.5" cy="959.1" r="1" fill="#1a8a5a" opacity="0.5"/><circle cx="739" cy="967" r="2" fill="#03382a" /><circle cx="739.5" cy="967.6" r="1" fill="#1a8a5a" opacity="0.5"/><circle cx="747.5" cy="889" r="2" fill="#03382a" /><circle cx="748" cy="889.6" r="1" fill="#1a8a5a" opacity="0.5"/><circle cx="747.5" cy="897.5" r="2" fill="#03382a" /><circle cx="748" cy="898.1" r="1" fill="#1a8a5a" opacity="0.5"/><circle cx="747.5" cy="906" r="2" fill="#03382a" /><circle cx="748" cy="906.6" r="1" fill="#1a8a5a" opacity="0.5"/><circle cx="747.5" cy="950" r="2" fill="#03382a" /><circle cx="748" cy="950.6" r="1" fill="#1a8a5a" opacity="0.5"/><circle cx="747.5" cy="958.5" r="2" fill="#03382a" /><circle cx="748" cy="959.1" r="1" fill="#1a8a5a" opacity="0.5"/><circle cx="747.5" cy="967" r="2" fill="#03382a" /><circle cx="748" cy="967.6" r="1" fill="#1a8a5a" opacity="0.5"/><circle cx="756" cy="889" r="2" fill="#03382a" /><circle cx="756.5" cy="889.6" r="1" fill="#1a8a5a" opacity="0.5"/><circle cx="756" cy="897.5" r="2" fill="#03382a" /><circle cx="756.5" cy="898.1" r="1" fill="#1a8a5a" opacity="0.5"/><circle cx="756" cy="906" r="2" fill="#03382a" /><circle cx="756.5" cy="906.6" r="1" fill="#1a8a5a" opacity="0.5"/><circle cx="756" cy="950" r="2" fill="#03382a" /><circle cx="756.5" cy="950.6" r="1" fill="#1a8a5a" opacity="0.5"/><circle cx="756" cy="958.5" r="2" fill="#03382a" /><circle cx="756.5" cy="959.1" r="1" fill="#1a8a5a" opacity="0.5"/><circle cx="756" cy="967" r="2" fill="#03382a" /><circle cx="756.5" cy="967.6" r="1" fill="#1a8a5a" opacity="0.5"/><circle cx="805" cy="887" r="2" fill="#03382a" /><circle cx="805.5" cy="887.6" r="1" fill="#1a8a5a" opacity="0.5"/><circle cx="805" cy="895.5" r="2" fill="#03382a" /><circle cx="805.5" cy="896.1" r="1" fill="#1a8a5a" opacity="0.5"/><circle cx="805" cy="904" r="2" fill="#03382a" /><circle cx="805.5" cy="904.6" r="1" fill="#1a8a5a" opacity="0.5"/><circle cx="813" cy="887" r="2" fill="#03382a" /><circle cx="813.5" cy="887.6" r="1" fill="#1a8a5a" opacity="0.5"/><circle cx="813" cy="895.5" r="2" fill="#03382a" /><circle cx="813.5" cy="896.1" r="1" fill="#1a8a5a" opacity="0.5"/><circle cx="813" cy="904" r="2" fill="#03382a" /><circle cx="813.5" cy="904.6" r="1" fill="#1a8a5a" opacity="0.5"/><circle cx="821" cy="887" r="2" fill="#03382a" /><circle cx="821.5" cy="887.6" r="1" fill="#1a8a5a" opacity="0.5"/><circle cx="821" cy="895.5" r="2" fill="#03382a" /><circle cx="821.5" cy="896.1" r="1" fill="#1a8a5a" opacity="0.5"/><circle cx="821" cy="904" r="2" fill="#03382a" /><circle cx="821.5" cy="904.6" r="1" fill="#1a8a5a" opacity="0.5"/><circle cx="829" cy="887" r="2" fill="#03382a" /><circle cx="829.5" cy="887.6" r="1" fill="#1a8a5a" opacity="0.5"/><circle cx="829" cy="895.5" r="2" fill="#03382a" /><circle cx="829.5" cy="896.1" r="1" fill="#1a8a5a" opacity="0.5"/><circle cx="829" cy="904" r="2" fill="#03382a" /><circle cx="829.5" cy="904.6" r="1" fill="#1a8a5a" opacity="0.5"/><circle cx="808" cy="951" r="2" fill="#03382a" /><circle cx="808.5" cy="951.6" r="1" fill="#1a8a5a" opacity="0.5"/><circle cx="808" cy="959.5" r="2" fill="#03382a" /><circle cx="808.5" cy="960.1" r="1" fill="#1a8a5a" opacity="0.5"/><circle cx="808" cy="968" r="2" fill="#03382a" /><circle cx="808.5" cy="968.6" r="1" fill="#1a8a5a" opacity="0.5"/><circle cx="817" cy="951" r="2" fill="#03382a" /><circle cx="817.5" cy="951.6" r="1" fill="#1a8a5a" opacity="0.5"/><circle cx="817" cy="959.5" r="2" fill="#03382a" /><circle cx="817.5" cy="960.1" r="1" fill="#1a8a5a" opacity="0.5"/><circle cx="817" cy="968" r="2" fill="#03382a" /><circle cx="817.5" cy="968.6" r="1" fill="#1a8a5a" opacity="0.5"/><circle cx="826" cy="951" r="2" fill="#03382a" /><circle cx="826.5" cy="951.6" r="1" fill="#1a8a5a" opacity="0.5"/><circle cx="826" cy="959.5" r="2" fill="#03382a" /><circle cx="826.5" cy="960.1" r="1" fill="#1a8a5a" opacity="0.5"/><circle cx="826" cy="968" r="2" fill="#03382a" /><circle cx="826.5" cy="968.6" r="1" fill="#1a8a5a" opacity="0.5"/><circle cx="835" cy="951" r="2" fill="#03382a" /><circle cx="835.5" cy="951.6" r="1" fill="#1a8a5a" opacity="0.5"/><circle cx="835" cy="959.5" r="2" fill="#03382a" /><circle cx="835.5" cy="960.1" r="1" fill="#1a8a5a" opacity="0.5"/><circle cx="835" cy="968" r="2" fill="#03382a" /><circle cx="835.5" cy="968.6" r="1" fill="#1a8a5a" opacity="0.5"/><circle cx="864" cy="807" r="1.4" fill="#073f2a" /><circle cx="891" cy="807" r="1.4" fill="#073f2a" /><circle cx="864" cy="841" r="1.4" fill="#073f2a" /><circle cx="891" cy="841" r="1.4" fill="#073f2a" /></g>
<g filter="url(#b1)"><rect x="589" y="756" width="61" height="93" fill="none" stroke="#eefdf6" stroke-width="2"/><rect x="591" y="875" width="61" height="93" fill="none" stroke="#eefdf6" stroke-width="2"/><rect x="856" y="875.5" width="61" height="89" fill="none" stroke="#eefdf6" stroke-width="2"/><text x="659.5" y="822" font-size="27" fill="#eefdf6" font-weight="normal" textLength="167" lengthAdjust="spacingAndGlyphs" stroke="#eefdf6" stroke-width="0.7">MATIW-b42-3</text><text x="924" y="840.5" font-size="15.5" fill="#eefdf6" font-weight="bold" textLength="46.5" lengthAdjust="spacingAndGlyphs" transform="rotate(-90 924 840.5)" >ON/OFF</text></g>
<g filter="url(#b1)"><circle cx="625.5" cy="775" r="8" fill="#c9c9cc" /><circle cx="625.5" cy="775" r="6.2" fill="#fafafa" /><circle cx="626" cy="798" r="4.5" fill="#b0b0b4" /><circle cx="625.5" cy="797.5" r="2.2" fill="#e8e8e8" /><circle cx="626" cy="827" r="4.5" fill="#b0b0b4" /><circle cx="625.5" cy="826.5" r="2.2" fill="#e8e8e8" /><circle cx="627" cy="917" r="4.5" fill="#b0b0b4" /><circle cx="626.5" cy="916.5" r="2.2" fill="#e8e8e8" /><circle cx="628" cy="948" r="4.5" fill="#b0b0b4" /><circle cx="627.5" cy="947.5" r="2.2" fill="#e8e8e8" /><circle cx="628.5" cy="895.6" r="8" fill="#c9c9cc" /><circle cx="628.5" cy="895.6" r="6.2" fill="#fafafa" /><circle cx="628.5" cy="978" r="8.5" fill="#c9c9cc" /><circle cx="628.5" cy="978" r="6.7" fill="#fafafa" /><circle cx="844" cy="892.5" r="8.5" fill="#aaaaae" /><circle cx="844" cy="892.5" r="6.7" fill="#fafafa" /><circle cx="877.5" cy="808" r="4.5" fill="#a9a9ac" /><circle cx="877.5" cy="808" r="2.8" fill="#f4f4f4" /><circle cx="877.5" cy="840" r="4.5" fill="#a9a9ac" /><circle cx="877.5" cy="840" r="2.8" fill="#f4f4f4" /><circle cx="870.6" cy="890.6" r="5.2" fill="#b0b0b4" /><circle cx="872.5" cy="923.7" r="4.2" fill="#555" /><circle cx="871.9" cy="947" r="7.5" fill="#c9c9cc" /><circle cx="871.9" cy="947" r="5.7" fill="#fafafa" /><circle cx="921.5" cy="747" r="16.5" fill="#e9ebed" /></g>
</g>
<g filter="url(#b1)"><rect x="566" y="769" width="12" height="7" rx="0" fill="#e6e6e8" /><rect x="544.2" y="774" width="74.3" height="78.4" rx="2" fill="#f1f1f3" stroke="#dadade" stroke-width="1"/><rect x="551.4" y="794.2" width="31.8" height="37.8" rx="2" fill="#b4b4b8" /><rect x="552.4" y="800.2" width="29.8" height="25.8" rx="0" fill="#d6d6d9" /><rect x="554.4" y="798.2" width="27.8" height="3.5" rx="1" fill="#2a2a2c" /><rect x="554.4" y="824.5" width="27.8" height="3.5" rx="1" fill="#2a2a2c" /><rect x="563" y="890.6" width="11.4" height="7.4" rx="0" fill="#e6e6e8" /><rect x="548.8" y="896.2" width="73.8" height="78.1" rx="2" fill="#f1f1f3" stroke="#dadade" stroke-width="1"/><rect x="556.2" y="917.5" width="31.8" height="35" rx="2" fill="#b4b4b8" /><rect x="557.2" y="923.5" width="29.8" height="23" rx="0" fill="#d6d6d9" /><rect x="559.2" y="921.5" width="27.8" height="3.5" rx="1" fill="#2a2a2c" /><rect x="559.2" y="945" width="27.8" height="3.5" rx="1" fill="#2a2a2c" /><rect x="874.5" y="871" width="73.5" height="78.7" rx="2" fill="#f1f1f3" stroke="#dadade" stroke-width="1"/><rect x="909" y="891" width="28" height="38" rx="2" fill="#b4b4b8" /><rect x="910" y="897" width="26" height="26" rx="0" fill="#d6d6d9" /><rect x="912" y="895" width="24" height="3.5" rx="1" fill="#2a2a2c" /><rect x="912" y="921.5" width="24" height="3.5" rx="1" fill="#2a2a2c" /><rect x="918" y="950" width="14" height="5" rx="0" fill="#e6e6e8" /><rect x="617" y="790" width="6" height="8" rx="1" fill="#e2e2e4" /><rect x="617" y="806" width="6" height="8" rx="1" fill="#e2e2e4" /><rect x="617" y="822" width="6" height="8" rx="1" fill="#e2e2e4" /><rect x="621" y="912" width="6" height="8" rx="1" fill="#e2e2e4" /><rect x="621" y="930" width="6" height="8" rx="1" fill="#e2e2e4" /><rect x="621" y="948" width="6" height="8" rx="1" fill="#e2e2e4" /></g>
<g clip-path="url(#phc)">
<rect x="18.7" y="740" width="246.8" height="246" rx="0" fill="#8a8478" />
<g filter="url(#b1)"><rect x="152" y="740" width="114" height="160" rx="0" fill="url(#fence)" /><rect x="152" y="740" width="114" height="160" rx="0" fill="url(#fpl)" /><rect x="152" y="740" width="114" height="160" rx="0" fill="url(#fenceV)" /><rect x="190" y="740" width="68" height="12" rx="0" fill="#525a66" opacity="0.7" filter="url(#b3)"/><rect x="243.5" y="760" width="12" height="7.5" rx="0" fill="#6c6c6c" /><polygon points="18,934 122,904 152,895 266,893 266,987 18,987" fill="url(#deck)" /><polygon points="18,934 122,904 152,895 266,893 266,987 18,987" fill="url(#plk)" /><polygon points="18,934 122,904 152,895 266,893 266,987 18,987" fill="url(#deckH)" /><polygon points="18,950 80,957 140,972 266,968 266,987 18,987" fill="#6c6058" opacity="0.35" filter="url(#b3)"/><ellipse cx="235" cy="945" rx="85" ry="60" fill="url(#shade)" opacity="0.45"/><rect x="18" y="740" width="12.5" height="200" rx="0" fill="#b9ad98" /><rect x="18" y="740" width="12.5" height="200" rx="0" fill="url(#brk)" /><polygon points="30,742 122,742 122,904 30,930" fill="#7a7a78" /><polygon points="30,741 130,741 130,762 30,754" fill="#9c9c9a" /><polygon points="35,764 66,760 66,906 39,912 35,912" fill="url(#pane)" /><polygon points="80,764 111,770 111,899 80,904" fill="url(#pane)" /><rect x="35" y="752" width="29" height="14" rx="0" fill="#d4d4d2" opacity="0.8"/><rect x="57" y="766" width="12" height="144" rx="0" fill="#827d78" opacity="0.8"/><rect x="97" y="768" width="15" height="134" rx="0" fill="#8f8a86" opacity="0.55" filter="url(#b2)"/><rect x="81" y="814" width="13" height="22" rx="0" fill="#4a4644" /><rect x="42" y="803" width="14" height="23" rx="0" fill="#6a6058" opacity="0.8"/><rect x="81" y="848" width="13" height="6" rx="0" fill="#4f5a3c" /><rect x="69" y="752" width="11" height="157" rx="0" fill="#6f6e6a" /><rect x="111" y="764" width="11" height="138" rx="0" fill="#adadab" /><polygon points="30,921 122,901 122,906 30,932" fill="#6a665e" /><rect x="120" y="740" width="33.5" height="162" rx="0" fill="url(#brickL)" /><rect x="120" y="790" width="33.5" height="112" rx="0" fill="url(#brk)" /><polygon points="118,740 153.5,740 153.5,790 131,782 124,765" fill="#26262a" filter="url(#b2)"/><polygon points="131,781 150,787 150,791 131,785" fill="#1c1c24" /><ellipse cx="133" cy="800" rx="26" ry="22" fill="url(#glow)" /><ellipse cx="118" cy="770" rx="18" ry="30" fill="url(#glow)" opacity="0.7"/><ellipse cx="162" cy="795" rx="14" ry="40" fill="url(#glow)" opacity="0.3"/><ellipse cx="120" cy="800" rx="70" ry="80" fill="url(#glow)" opacity="0.28"/><ellipse cx="134" cy="881" rx="9" ry="13" fill="#5c6650" filter="url(#b2)" opacity="0.6"/><rect x="123" y="892" width="26" height="14" rx="0" fill="#8e8e8c" /><rect x="153" y="893" width="17" height="7" rx="0" fill="#6a7050" opacity="0.7"/><polygon points="193,866 224,863 227,886 198,890" fill="#785a3a" /><polygon points="208,883 266,880 266,891 210,893" fill="#9a7246" /><polygon points="210,892 266,890 266,894 211,896" fill="#54402c" /><ellipse cx="238" cy="877" rx="5" ry="5.5" fill="#c4b0a4" filter="url(#b1)"/><ellipse cx="250" cy="876" rx="5" ry="6" fill="#a8a4b0" filter="url(#b1)"/><polygon points="168,870 192,873 198,907 177,914" fill="#b5742f" /><path d="M174 871 L182 911" stroke="#7a4e20" stroke-width="0.9"/><path d="M180 871 L188 911" stroke="#7a4e20" stroke-width="0.9"/><path d="M186 871 L194 911" stroke="#7a4e20" stroke-width="0.9"/><polygon points="182,917 210,912 241,922 203,927" fill="#7e5e3c" /><polygon points="192,888 213,889 213,892 192,891" fill="#8a6238" /><path d="M170 872 L181 918 L203 927 L240 923 L232 965 L176 968 L172 961 L211 956 L212 926" fill="none" stroke="#2e2822" stroke-width="1.3"/><path d="M227 888 L221 940 L200 938 M250 896 L244 944 L215 950" fill="none" stroke="#2e2822" stroke-width="1.1"/><path d="M257.5 892 L258 968 M263 892 L264 950 M214 893 L213 915" fill="none" stroke="#2e2822" stroke-width="1.8"/></g>
<rect x="18" y="984.3" width="248" height="2.7" rx="0" fill="#3a3632" />
</g>
<g filter="url(#b0)"><rect x="17" y="168.5" width="154" height="138" fill="#fff" stroke="#050505" stroke-width="5"/>
<text x="38" y="249" font-size="31" fill="#e2050f" font-weight="bold" textLength="110" lengthAdjust="spacingAndGlyphs" >Battery</text>
<path d="M138 308 V369 H312" fill="none" stroke="#f00606" stroke-width="5.9"/>
<path d="M73.2 308 V455 H322" fill="none" stroke="#050505" stroke-width="5.9"/>
<path d="M874.5 246 V371.7 H705" fill="none" stroke="#050505" stroke-width="6"/>
<path d="M938 246 V460 H701" fill="none" stroke="#f00606" stroke-width="6"/>
<path d="M89.1 741 V562 H312" fill="none" stroke="#f00606" stroke-width="6"/>
<path d="M153.3 741 V639 H323" fill="none" stroke="#050505" stroke-width="5.9"/>
<text x="269.5" y="910" font-size="72" fill="#f20a0c" font-weight="bold" textLength="114" lengthAdjust="spacingAndGlyphs" >LED</text></g>
</svg></body></html>
